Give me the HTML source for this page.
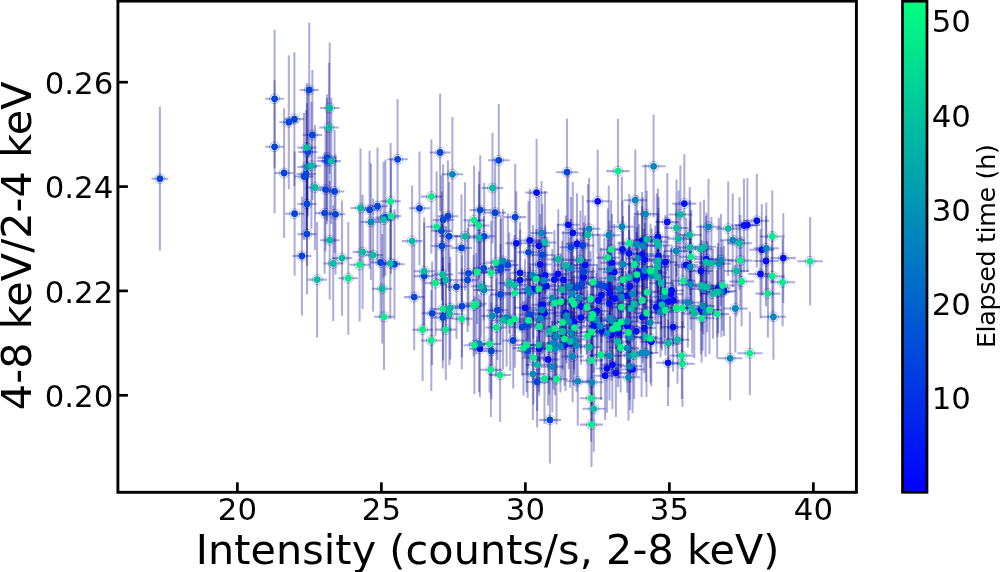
<!DOCTYPE html>
<html lang="en"><head><meta charset="utf-8"><title>Hardness-intensity diagram</title>
<style>html,body{margin:0;padding:0;background:#fff}body{width:1000px;height:572px;overflow:hidden}svg{display:block}text{font-family:"DejaVu Sans","Liberation Sans",sans-serif;fill:#000}</style></head><body>
<svg width="1000" height="572" viewBox="0 0 1000 572">
<defs><linearGradient id="cb" x1="0" y1="1" x2="0" y2="0"><stop offset="0" stop-color="#0000ff"/><stop offset="1" stop-color="#00ff80"/></linearGradient>
<clipPath id="ax"><rect x="117.9" y="1.1" width="738.5" height="491.2"/></clipPath></defs>
<rect width="1000" height="572" fill="#fff"/>
<g clip-path="url(#ax)">
<g stroke="#000096" stroke-opacity="0.32" stroke-width="2.05" fill="none">
<path d="M747.4 178.0V272.0"/><path d="M735.0 225.0H759.8"/>
<path d="M529.8 188.5V292.2"/><path d="M518.7 240.4H540.8"/>
<path d="M516.3 191.2V295.5"/><path d="M505.3 243.3H527.3"/>
<path d="M520.1 222.0V323.5"/><path d="M509.1 272.8H531.2"/>
<path d="M520.1 229.7V330.5"/><path d="M509.1 280.1H531.2"/>
<path d="M533.4 239.2V338.6"/><path d="M522.3 288.9H544.5"/>
<path d="M525.0 258.7V356.9"/><path d="M514.0 307.8H536.1"/>
<path d="M479.9 300.1V397.3"/><path d="M469.1 348.7H490.6"/>
<path d="M536.6 138.8V246.3"/><path d="M525.4 192.6H547.7"/>
<path d="M597.7 149.7V252.9"/><path d="M586.2 201.3H609.2"/>
<path d="M568.3 173.4V276.2"/><path d="M557.0 224.8H579.6"/>
<path d="M539.0 194.4V297.1"/><path d="M527.8 245.8H550.1"/>
<path d="M540.2 213.9V315.0"/><path d="M529.1 264.4H551.4"/>
<path d="M572.8 182.0V283.9"/><path d="M561.4 232.9H584.2"/>
<path d="M577.0 193.3V294.0"/><path d="M565.6 243.7H588.4"/>
<path d="M585.2 215.6V314.1"/><path d="M573.8 264.9H596.6"/>
<path d="M583.6 228.7V326.2"/><path d="M572.2 277.5H595.0"/>
<path d="M612.0 214.1V311.4"/><path d="M600.4 262.8H623.6"/>
<path d="M614.3 224.0V320.4"/><path d="M602.7 272.2H625.9"/>
<path d="M622.5 200.5V298.4"/><path d="M610.8 249.4H634.1"/>
<path d="M629.0 204.7V301.9"/><path d="M617.3 253.3H640.7"/>
<path d="M636.6 232.0V326.7"/><path d="M624.9 279.4H648.4"/>
<path d="M630.0 238.9V333.4"/><path d="M618.3 286.2H641.7"/>
<path d="M557.9 224.3V323.5"/><path d="M546.6 273.9H569.2"/>
<path d="M554.4 230.1V329.0"/><path d="M543.2 279.6H565.7"/>
<path d="M563.4 230.7V329.1"/><path d="M552.0 279.9H574.7"/>
<path d="M545.2 225.4V325.3"/><path d="M534.0 275.4H556.4"/>
<path d="M546.5 236.4V335.3"/><path d="M535.4 285.9H557.7"/>
<path d="M607.5 239.8V335.3"/><path d="M595.9 287.5H619.0"/>
<path d="M542.6 256.0V353.4"/><path d="M531.4 304.7H553.7"/>
<path d="M544.5 265.0V361.6"/><path d="M533.3 313.3H555.6"/>
<path d="M580.9 258.6V353.9"/><path d="M569.5 306.3H592.3"/>
<path d="M601.4 247.7V342.8"/><path d="M589.8 295.2H612.9"/>
<path d="M598.3 253.1V347.9"/><path d="M586.8 300.5H609.8"/>
<path d="M597.0 264.0V358.0"/><path d="M585.4 311.0H608.5"/>
<path d="M610.1 245.7V340.6"/><path d="M598.5 293.1H621.7"/>
<path d="M614.8 251.5V345.7"/><path d="M603.2 298.6H626.4"/>
<path d="M609.3 256.4V350.5"/><path d="M597.8 303.4H620.9"/>
<path d="M626.1 248.8V342.7"/><path d="M614.5 295.8H637.8"/>
<path d="M565.7 264.8V360.3"/><path d="M554.3 312.6H577.0"/>
<path d="M573.9 274.9V369.2"/><path d="M562.5 322.0H585.2"/>
<path d="M580.9 270.5V364.8"/><path d="M569.5 317.6H592.3"/>
<path d="M593.8 279.8V372.7"/><path d="M582.3 326.2H605.3"/>
<path d="M602.2 285.1V377.2"/><path d="M590.7 331.2H613.7"/>
<path d="M611.6 289.5V380.8"/><path d="M600.0 335.1H623.3"/>
<path d="M627.4 280.6V371.9"/><path d="M615.7 326.2H639.1"/>
<path d="M619.0 287.5V378.6"/><path d="M607.4 333.1H630.6"/>
<path d="M636.3 286.0V376.5"/><path d="M624.6 331.3H648.1"/>
<path d="M565.5 298.2V391.0"/><path d="M554.1 344.6H576.8"/>
<path d="M539.2 301.9V395.7"/><path d="M528.1 348.8H550.3"/>
<path d="M548.1 313.2V405.7"/><path d="M536.9 359.4H559.3"/>
<path d="M612.4 320.3V409.1"/><path d="M600.8 364.7H624.0"/>
<path d="M606.9 324.0V412.8"/><path d="M595.4 368.4H618.5"/>
<path d="M615.9 328.9V416.9"/><path d="M604.2 372.9H627.5"/>
<path d="M605.1 331.6V419.9"/><path d="M593.6 375.7H616.7"/>
<path d="M632.6 325.7V413.2"/><path d="M620.9 369.4H644.4"/>
<path d="M684.3 154.3V252.8"/><path d="M672.3 203.6H696.3"/>
<path d="M667.3 173.1V270.9"/><path d="M655.4 222.0H679.2"/>
<path d="M744.0 178.4V272.5"/><path d="M731.6 225.5H756.3"/>
<path d="M657.9 188.5V285.6"/><path d="M646.0 237.0H669.7"/>
<path d="M642.1 191.9V289.5"/><path d="M630.3 240.7H653.9"/>
<path d="M642.1 206.1V302.6"/><path d="M630.3 254.3H653.9"/>
<path d="M644.7 211.6V307.6"/><path d="M632.9 259.6H656.5"/>
<path d="M658.4 208.1V303.7"/><path d="M646.5 255.9H670.3"/>
<path d="M665.4 214.9V309.6"/><path d="M653.5 262.2H677.3"/>
<path d="M706.4 212.5V305.6"/><path d="M694.2 259.1H718.5"/>
<path d="M686.2 218.1V311.6"/><path d="M674.2 264.9H698.2"/>
<path d="M643.7 229.0V323.6"/><path d="M631.9 276.3H655.5"/>
<path d="M700.9 224.8V317.2"/><path d="M688.8 271.0H713.0"/>
<path d="M718.2 243.0V333.3"/><path d="M706.0 288.1H730.5"/>
<path d="M724.0 246.1V335.9"/><path d="M711.7 291.0H736.3"/>
<path d="M671.7 244.4V336.5"/><path d="M659.7 290.4H683.7"/>
<path d="M671.0 248.2V340.1"/><path d="M659.0 294.1H682.9"/>
<path d="M673.4 254.8V346.1"/><path d="M661.4 300.4H685.4"/>
<path d="M668.4 255.8V347.2"/><path d="M656.4 301.5H680.3"/>
<path d="M661.0 256.1V347.9"/><path d="M649.1 302.0H672.9"/>
<path d="M656.3 261.5V353.0"/><path d="M644.4 307.2H668.1"/>
<path d="M642.6 271.6V362.9"/><path d="M630.8 317.2H654.4"/>
<path d="M700.9 264.7V354.0"/><path d="M688.8 309.4H713.0"/>
<path d="M639.2 223.9V319.2"/><path d="M627.4 271.6H650.9"/>
<path d="M644.2 282.9V373.3"/><path d="M632.4 328.1H656.0"/>
<path d="M673.1 282.5V371.7"/><path d="M661.1 327.1H685.0"/>
<path d="M651.3 297.3V386.2"/><path d="M639.5 341.8H663.2"/>
<path d="M668.0 319.5V406.0"/><path d="M656.1 362.8H680.0"/>
<path d="M756.8 173.7V267.6"/><path d="M744.3 220.7H769.2"/>
<path d="M761.8 204.1V295.6"/><path d="M749.3 249.8H774.3"/>
<path d="M766.0 215.8V306.2"/><path d="M753.5 261.0H778.5"/>
<path d="M783.3 213.2V303.1"/><path d="M770.7 258.1H795.9"/>
<path d="M760.5 229.1V318.7"/><path d="M748.1 273.9H773.0"/>
<path d="M159.9 106.7V250.7"/><path d="M151.5 178.7H168.3"/>
<path d="M274.6 29.7V167.8"/><path d="M265.3 98.8H283.9"/>
<path d="M309.2 22.4V157.6"/><path d="M299.7 90.0H318.8"/>
<path d="M294.4 52.2V186.0"/><path d="M284.9 119.1H303.8"/>
<path d="M288.8 55.2V189.3"/><path d="M279.3 122.2H298.2"/>
<path d="M312.4 69.9V200.2"/><path d="M302.8 135.0H322.0"/>
<path d="M274.6 80.2V213.3"/><path d="M265.3 146.8H283.9"/>
<path d="M307.9 87.5V216.5"/><path d="M298.3 152.0H317.4"/>
<path d="M327.1 94.3V220.9"/><path d="M317.4 157.6H336.8"/>
<path d="M326.8 97.9V224.3"/><path d="M317.0 161.1H336.5"/>
<path d="M397.6 99.2V219.5"/><path d="M387.4 159.3H407.8"/>
<path d="M284.1 108.3V237.7"/><path d="M274.7 173.0H293.4"/>
<path d="M306.1 110.3V237.4"/><path d="M296.5 173.9H315.7"/>
<path d="M304.0 113.0V240.0"/><path d="M294.5 176.5H313.5"/>
<path d="M325.5 127.8V251.4"/><path d="M315.8 189.6H335.2"/>
<path d="M334.6 130.1V252.7"/><path d="M324.9 191.4H344.4"/>
<path d="M307.0 142.0V266.0"/><path d="M297.4 204.0H316.5"/>
<path d="M377.5 147.5V265.0"/><path d="M367.4 206.2H387.6"/>
<path d="M369.6 150.8V268.7"/><path d="M359.6 209.8H379.6"/>
<path d="M419.5 151.4V265.3"/><path d="M409.1 208.3H429.9"/>
<path d="M294.6 151.6V275.7"/><path d="M285.1 213.7H304.0"/>
<path d="M324.6 152.4V273.8"/><path d="M315.0 213.1H334.3"/>
<path d="M335.5 154.2V274.5"/><path d="M325.7 214.3H345.3"/>
<path d="M385.4 159.6V275.4"/><path d="M375.2 217.5H395.5"/>
<path d="M307.0 173.7V294.6"/><path d="M297.4 234.1H316.5"/>
<path d="M301.9 196.4V315.6"/><path d="M292.4 256.0H311.4"/>
<path d="M380.6 206.5V318.4"/><path d="M370.6 262.5H390.7"/>
<path d="M394.5 208.9V319.6"/><path d="M384.3 264.2H404.7"/>
<path d="M424.2 222.4V329.8"/><path d="M413.8 276.1H434.6"/>
<path d="M414.2 244.1V350.2"/><path d="M403.9 297.1H424.6"/>
<path d="M440.1 93.7V211.3"/><path d="M429.6 152.5H450.7"/>
<path d="M498.8 104.0V216.7"/><path d="M487.9 160.3H509.7"/>
<path d="M567.0 118.6V225.9"/><path d="M555.7 172.2H578.3"/>
<path d="M480.2 155.3V264.9"/><path d="M469.5 210.1H491.0"/>
<path d="M495.1 158.6V266.9"/><path d="M484.2 212.7H506.0"/>
<path d="M515.2 163.8V270.4"/><path d="M504.2 217.1H526.2"/>
<path d="M447.9 160.6V271.8"/><path d="M437.3 216.2H458.4"/>
<path d="M443.1 164.3V275.5"/><path d="M432.6 219.9H453.6"/>
<path d="M441.4 175.6V285.9"/><path d="M430.9 230.8H451.9"/>
<path d="M449.2 181.7V291.0"/><path d="M438.7 236.3H459.8"/>
<path d="M484.2 182.9V289.8"/><path d="M473.5 236.3H495.0"/>
<path d="M441.9 191.5V300.4"/><path d="M431.4 246.0H452.4"/>
<path d="M461.5 194.2V301.6"/><path d="M450.9 247.9H472.1"/>
<path d="M528.5 200.9V303.7"/><path d="M517.4 252.3H539.6"/>
<path d="M507.9 213.4V316.3"/><path d="M496.9 264.9H518.8"/>
<path d="M500.9 215.0V318.2"/><path d="M490.0 266.6H511.8"/>
<path d="M500.5 218.7V321.6"/><path d="M489.6 270.1H511.4"/>
<path d="M483.7 216.3V320.4"/><path d="M472.9 268.4H494.5"/>
<path d="M468.5 221.0V325.6"/><path d="M457.8 273.3H479.2"/>
<path d="M467.6 228.1V332.1"/><path d="M456.9 280.1H478.3"/>
<path d="M456.5 234.7V338.9"/><path d="M445.8 286.8H467.1"/>
<path d="M500.6 244.0V344.7"/><path d="M489.7 294.4H511.5"/>
<path d="M432.1 261.6V365.0"/><path d="M421.7 313.3H442.5"/>
<path d="M442.8 266.3V368.6"/><path d="M432.3 317.5H453.3"/>
<path d="M462.0 255.2V357.3"/><path d="M451.4 306.2H472.7"/>
<path d="M497.4 260.4V360.0"/><path d="M486.5 310.2H508.3"/>
<path d="M530.3 266.0V363.3"/><path d="M519.2 314.6H541.4"/>
<path d="M526.6 276.3V372.9"/><path d="M515.5 324.6H537.7"/>
<path d="M522.1 278.9V375.5"/><path d="M511.0 327.2H533.1"/>
<path d="M491.4 302.8V399.2"/><path d="M480.6 351.0H502.3"/>
<path d="M513.2 292.5V388.5"/><path d="M502.2 340.5H524.1"/>
<path d="M527.6 303.9V398.1"/><path d="M516.6 351.0H538.7"/>
<path d="M549.9 376.3V463.5"/><path d="M538.7 419.9H561.1"/>
<path d="M542.4 204.1V305.9"/><path d="M531.2 255.0H553.5"/>
<path d="M582.8 195.4V295.7"/><path d="M571.4 245.5H594.2"/>
<path d="M571.0 196.9V297.7"/><path d="M559.7 247.3H582.4"/>
<path d="M583.8 222.5V320.5"/><path d="M572.4 271.5H595.3"/>
<path d="M581.7 235.2V332.3"/><path d="M570.3 283.8H593.1"/>
<path d="M577.0 239.0V336.1"/><path d="M565.6 287.5H588.4"/>
<path d="M599.6 236.5V332.7"/><path d="M588.0 284.6H611.1"/>
<path d="M604.3 238.3V334.0"/><path d="M592.7 286.2H615.9"/>
<path d="M537.1 336.5V427.6"/><path d="M526.0 382.0H548.2"/>
<path d="M307.0 103.0V230.7"/><path d="M297.4 166.9H316.5"/>
<path d="M370.9 163.6V280.1"/><path d="M360.8 221.9H380.9"/>
<path d="M452.4 117.0V231.7"/><path d="M441.8 174.3H463.0"/>
<path d="M503.1 209.2V312.8"/><path d="M492.2 261.0H514.1"/>
<path d="M532.9 225.1V325.6"/><path d="M521.8 275.4H544.0"/>
<path d="M484.1 238.9V341.0"/><path d="M473.3 289.9H494.9"/>
<path d="M528.2 239.6V339.2"/><path d="M517.1 289.4H539.3"/>
<path d="M529.8 243.0V342.2"/><path d="M518.7 292.6H540.8"/>
<path d="M492.2 266.2V365.6"/><path d="M481.3 315.9H503.0"/>
<path d="M506.6 268.3V366.7"/><path d="M495.7 317.5H517.6"/>
<path d="M479.1 294.6V392.3"/><path d="M468.4 343.4H489.9"/>
<path d="M532.9 328.1V420.1"/><path d="M521.8 374.1H544.0"/>
<path d="M635.3 149.6V250.9"/><path d="M623.5 200.2H647.0"/>
<path d="M621.9 176.8V276.6"/><path d="M610.3 226.7H633.6"/>
<path d="M589.1 178.1V279.5"/><path d="M577.6 228.8H600.5"/>
<path d="M541.5 181.1V284.8"/><path d="M530.3 232.9H552.7"/>
<path d="M608.8 185.4V285.1"/><path d="M597.2 235.2H620.4"/>
<path d="M571.0 218.8V317.8"/><path d="M559.7 268.3H582.4"/>
<path d="M609.5 220.6V317.5"/><path d="M598.0 269.1H621.1"/>
<path d="M610.4 230.3V326.3"/><path d="M598.8 278.3H622.0"/>
<path d="M636.9 195.7V293.3"/><path d="M625.1 244.5H648.6"/>
<path d="M623.0 216.0V312.6"/><path d="M611.3 264.3H634.7"/>
<path d="M637.9 210.2V306.5"/><path d="M626.1 258.4H649.7"/>
<path d="M543.9 230.7V330.1"/><path d="M532.7 280.4H555.1"/>
<path d="M569.3 237.6V335.2"/><path d="M558.0 286.4H580.7"/>
<path d="M619.5 241.6V336.4"/><path d="M607.9 289.0H631.2"/>
<path d="M572.3 245.3V342.1"/><path d="M560.9 293.7H583.6"/>
<path d="M552.3 249.1V346.6"/><path d="M541.1 297.9H563.6"/>
<path d="M541.8 261.4V358.5"/><path d="M530.7 309.9H553.0"/>
<path d="M540.0 270.1V366.6"/><path d="M528.9 318.4H551.2"/>
<path d="M579.3 249.8V345.9"/><path d="M567.9 297.9H590.7"/>
<path d="M621.4 249.8V343.8"/><path d="M609.8 296.8H633.1"/>
<path d="M632.4 246.8V340.5"/><path d="M620.7 293.7H644.2"/>
<path d="M566.5 268.1V363.3"/><path d="M555.2 315.7H577.8"/>
<path d="M568.8 274.7V369.3"/><path d="M557.5 322.0H580.1"/>
<path d="M596.4 273.3V366.6"/><path d="M584.9 319.9H607.9"/>
<path d="M571.2 286.3V379.8"/><path d="M559.9 333.1H582.6"/>
<path d="M600.6 279.9V372.5"/><path d="M589.1 326.2H612.2"/>
<path d="M607.2 287.4V379.1"/><path d="M595.7 333.3H618.8"/>
<path d="M610.1 272.0V364.7"/><path d="M598.5 318.4H621.7"/>
<path d="M612.4 274.7V367.2"/><path d="M600.8 321.0H624.0"/>
<path d="M627.4 275.7V367.3"/><path d="M615.7 321.5H639.1"/>
<path d="M630.0 292.1V382.4"/><path d="M618.3 337.2H641.7"/>
<path d="M556.5 289.2V383.2"/><path d="M545.3 336.2H567.8"/>
<path d="M573.9 292.9V385.8"/><path d="M562.5 339.4H585.2"/>
<path d="M576.5 299.6V391.7"/><path d="M565.1 345.6H587.9"/>
<path d="M553.4 296.2V389.8"/><path d="M542.1 343.0H564.6"/>
<path d="M560.5 299.7V392.6"/><path d="M549.2 346.2H571.8"/>
<path d="M555.0 302.3V395.3"/><path d="M543.7 348.8H566.2"/>
<path d="M627.2 303.3V392.8"/><path d="M615.5 348.1H638.9"/>
<path d="M552.3 320.8V412.4"/><path d="M541.1 366.6H563.6"/>
<path d="M572.6 310.8V402.2"/><path d="M561.2 356.5H583.9"/>
<path d="M609.5 310.9V400.6"/><path d="M598.0 355.8H621.1"/>
<path d="M629.5 311.4V400.2"/><path d="M617.8 355.8H641.2"/>
<path d="M630.0 322.3V410.2"/><path d="M618.3 366.3H641.7"/>
<path d="M628.5 333.8V420.8"/><path d="M616.7 377.3H640.2"/>
<path d="M577.8 336.7V425.8"/><path d="M566.4 381.3H589.2"/>
<path d="M592.0 338.2V426.5"/><path d="M580.5 382.3H603.5"/>
<path d="M653.6 114.8V217.8"/><path d="M641.8 166.3H665.5"/>
<path d="M645.5 164.3V263.9"/><path d="M633.7 214.1H657.3"/>
<path d="M708.5 179.1V274.6"/><path d="M696.3 226.8H720.6"/>
<path d="M642.6 197.2V294.3"/><path d="M630.8 245.7H654.4"/>
<path d="M732.7 193.5V286.9"/><path d="M720.4 240.2H745.0"/>
<path d="M676.2 203.3V298.4"/><path d="M664.2 250.9H688.2"/>
<path d="M720.9 213.9V306.3"/><path d="M708.6 260.1H733.1"/>
<path d="M718.8 217.7V309.9"/><path d="M706.5 263.8H731.0"/>
<path d="M644.7 223.0V318.0"/><path d="M632.9 270.5H656.5"/>
<path d="M651.8 228.6V322.9"/><path d="M639.9 275.8H663.6"/>
<path d="M690.1 220.5V313.7"/><path d="M678.0 267.1H702.2"/>
<path d="M690.6 238.5V330.3"/><path d="M678.5 284.4H702.7"/>
<path d="M703.5 243.4V334.3"/><path d="M691.4 288.9H715.7"/>
<path d="M721.4 247.1V336.9"/><path d="M709.1 292.0H733.6"/>
<path d="M663.9 250.7V342.8"/><path d="M652.0 296.8H675.9"/>
<path d="M660.5 266.5V357.4"/><path d="M648.6 312.0H672.4"/>
<path d="M687.8 257.3V347.8"/><path d="M675.7 302.5H699.8"/>
<path d="M702.7 261.1V350.7"/><path d="M690.5 305.9H714.8"/>
<path d="M705.6 267.7V356.7"/><path d="M693.5 312.2H717.8"/>
<path d="M735.3 264.5V352.5"/><path d="M723.0 308.5H747.7"/>
<path d="M650.2 277.3V367.8"/><path d="M638.4 322.6H662.0"/>
<path d="M641.6 308.6V397.0"/><path d="M629.8 352.8H653.4"/>
<path d="M646.5 308.9V397.1"/><path d="M634.7 353.0H658.3"/>
<path d="M730.1 316.1V400.4"/><path d="M717.8 358.3H742.4"/>
<path d="M766.3 202.6V294.0"/><path d="M753.8 248.3H778.8"/>
<path d="M773.4 273.9V359.7"/><path d="M760.8 316.8H785.9"/>
<path d="M329.7 42.4V173.7"/><path d="M320.0 108.0H339.5"/>
<path d="M329.0 62.8V192.2"/><path d="M319.3 127.5H338.7"/>
<path d="M306.8 82.8V212.4"/><path d="M297.2 147.6H316.4"/>
<path d="M331.3 98.1V224.1"/><path d="M321.6 161.1H341.0"/>
<path d="M311.4 102.0V229.3"/><path d="M301.8 165.7H320.9"/>
<path d="M315.0 125.1V249.9"/><path d="M305.4 187.5H324.6"/>
<path d="M360.5 148.6V267.4"/><path d="M350.6 208.0H370.5"/>
<path d="M383.6 161.7V277.5"/><path d="M373.5 219.6H393.7"/>
<path d="M329.7 181.1V299.4"/><path d="M320.0 240.2H339.5"/>
<path d="M412.1 185.4V296.9"/><path d="M401.8 241.1H422.5"/>
<path d="M362.6 194.8V309.1"/><path d="M352.7 252.0H372.6"/>
<path d="M373.1 198.5V311.7"/><path d="M363.1 255.1H383.2"/>
<path d="M342.0 200.4V315.8"/><path d="M332.2 258.1H351.8"/>
<path d="M333.2 205.5V321.2"/><path d="M323.5 263.4H343.0"/>
<path d="M390.3 207.8V318.9"/><path d="M380.1 263.4H400.4"/>
<path d="M424.2 217.3V325.1"/><path d="M413.8 271.2H434.6"/>
<path d="M317.1 221.9V337.4"/><path d="M307.5 279.6H326.8"/>
<path d="M382.2 234.1V343.4"/><path d="M372.1 288.7H392.3"/>
<path d="M492.5 132.7V243.3"/><path d="M481.6 188.0H503.3"/>
<path d="M465.0 182.3V290.4"/><path d="M454.3 236.3H475.7"/>
<path d="M479.0 184.2V291.3"/><path d="M468.2 237.8H489.8"/>
<path d="M442.6 221.4V327.6"/><path d="M432.1 274.5H453.1"/>
<path d="M445.8 227.3V332.9"/><path d="M435.2 280.1H456.3"/>
<path d="M481.1 234.9V337.6"/><path d="M470.4 286.3H491.9"/>
<path d="M509.3 232.5V333.7"/><path d="M498.3 283.1H520.2"/>
<path d="M514.5 234.9V335.6"/><path d="M503.5 285.2H525.5"/>
<path d="M450.3 256.7V359.4"/><path d="M439.7 308.0H460.8"/>
<path d="M449.4 262.8V365.0"/><path d="M438.9 313.9H460.0"/>
<path d="M503.0 271.2V369.6"/><path d="M492.1 320.4H513.9"/>
<path d="M545.0 191.1V293.7"/><path d="M533.8 242.4H556.2"/>
<path d="M588.0 184.3V285.2"/><path d="M576.6 234.7H599.5"/>
<path d="M558.3 209.2V309.6"/><path d="M547.0 259.4H569.6"/>
<path d="M565.8 215.6V315.2"/><path d="M554.4 265.4H577.1"/>
<path d="M580.4 210.5V309.7"/><path d="M569.0 260.1H591.8"/>
<path d="M629.2 229.8V325.1"/><path d="M617.5 277.5H640.9"/>
<path d="M562.1 240.8V338.5"/><path d="M550.8 289.6H573.4"/>
<path d="M634.2 257.8V350.6"/><path d="M622.5 304.2H646.0"/>
<path d="M631.1 262.4V355.0"/><path d="M619.4 308.7H642.8"/>
<path d="M549.7 284.1V378.9"/><path d="M538.5 331.5H560.9"/>
<path d="M562.5 284.4V378.5"/><path d="M551.2 331.5H573.8"/>
<path d="M570.2 295.0V387.9"/><path d="M558.8 341.4H581.5"/>
<path d="M538.7 298.0V392.2"/><path d="M527.5 345.1H549.8"/>
<path d="M618.0 296.4V386.9"/><path d="M606.3 341.7H629.6"/>
<path d="M589.3 301.5V392.9"/><path d="M577.8 347.2H600.7"/>
<path d="M537.1 318.4V411.0"/><path d="M526.0 364.7H548.2"/>
<path d="M634.2 310.4V399.1"/><path d="M622.5 354.7H646.0"/>
<path d="M593.8 365.8V451.8"/><path d="M582.3 408.8H605.3"/>
<path d="M680.4 165.5V263.4"/><path d="M668.4 214.4H692.4"/>
<path d="M676.5 179.4V276.4"/><path d="M664.5 227.9H688.5"/>
<path d="M728.2 181.4V275.9"/><path d="M715.9 228.6H740.5"/>
<path d="M689.7 187.0V282.8"/><path d="M677.6 234.9H701.7"/>
<path d="M678.6 190.6V286.6"/><path d="M666.6 238.6H690.6"/>
<path d="M646.8 190.7V288.2"/><path d="M635.0 239.4H658.6"/>
<path d="M656.8 193.4V290.1"/><path d="M644.9 241.8H668.7"/>
<path d="M658.7 197.2V293.6"/><path d="M646.8 245.4H670.6"/>
<path d="M739.5 196.9V289.8"/><path d="M727.2 243.3H751.9"/>
<path d="M690.2 200.2V294.9"/><path d="M678.1 247.5H702.3"/>
<path d="M700.4 202.0V296.2"/><path d="M688.2 249.1H712.5"/>
<path d="M704.0 199.7V293.9"/><path d="M691.9 246.8H716.2"/>
<path d="M658.1 213.1V308.2"/><path d="M646.2 260.6H669.9"/>
<path d="M706.1 215.8V308.7"/><path d="M694.0 262.2H718.3"/>
<path d="M711.4 217.0V309.5"/><path d="M699.2 263.3H723.6"/>
<path d="M657.3 219.5V314.2"/><path d="M645.4 266.8H669.2"/>
<path d="M655.2 225.4V319.8"/><path d="M643.4 272.6H667.1"/>
<path d="M658.1 230.4V324.2"/><path d="M646.2 277.3H669.9"/>
<path d="M661.0 236.5V329.7"/><path d="M649.1 283.1H672.9"/>
<path d="M736.6 225.6V316.4"/><path d="M724.3 271.0H748.9"/>
<path d="M701.7 240.1V331.3"/><path d="M689.6 285.7H713.9"/>
<path d="M707.2 241.3V332.2"/><path d="M695.0 286.8H719.4"/>
<path d="M717.5 247.0V337.0"/><path d="M705.3 292.0H729.7"/>
<path d="M713.0 248.8V338.8"/><path d="M700.8 293.8H725.2"/>
<path d="M662.0 258.9V350.4"/><path d="M650.1 304.6H674.0"/>
<path d="M692.2 263.6V353.4"/><path d="M680.1 308.5H704.3"/>
<path d="M694.3 268.9V358.2"/><path d="M682.2 313.6H706.4"/>
<path d="M645.8 292.3V381.8"/><path d="M634.0 337.1H657.6"/>
<path d="M668.6 299.1V387.2"/><path d="M656.6 343.1H680.5"/>
<path d="M677.5 295.7V383.7"/><path d="M665.5 339.7H689.5"/>
<path d="M390.6 142.9V259.8"/><path d="M380.5 201.3H400.8"/>
<path d="M391.0 158.4V273.8"/><path d="M380.8 216.1H401.1"/>
<path d="M359.6 208.1V321.4"/><path d="M349.7 264.8H369.6"/>
<path d="M348.3 221.7V334.7"/><path d="M338.4 278.2H358.1"/>
<path d="M384.0 263.5V370.0"/><path d="M373.9 316.8H394.1"/>
<path d="M422.6 278.5V381.0"/><path d="M412.3 329.7H433.0"/>
<path d="M431.4 139.5V253.7"/><path d="M421.0 196.6H441.8"/>
<path d="M474.1 165.7V274.8"/><path d="M463.4 220.2H484.8"/>
<path d="M479.0 171.4V279.6"/><path d="M468.2 225.5H489.8"/>
<path d="M436.6 171.2V282.2"/><path d="M426.2 226.7H447.1"/>
<path d="M496.1 210.7V314.5"/><path d="M485.3 262.6H507.0"/>
<path d="M477.2 219.8V324.0"/><path d="M466.5 271.9H488.0"/>
<path d="M491.2 221.1V324.4"/><path d="M480.4 272.8H502.1"/>
<path d="M435.5 230.1V336.1"/><path d="M425.0 283.1H445.9"/>
<path d="M515.0 243.1V343.1"/><path d="M504.1 293.1H526.0"/>
<path d="M443.1 257.3V360.4"/><path d="M432.6 308.9H453.6"/>
<path d="M473.6 255.0V356.4"/><path d="M462.9 305.7H484.3"/>
<path d="M476.2 253.1V354.5"/><path d="M465.5 303.8H486.9"/>
<path d="M461.8 268.3V369.3"/><path d="M451.2 318.8H472.5"/>
<path d="M528.4 272.0V368.8"/><path d="M517.3 320.4H539.5"/>
<path d="M510.3 273.3V371.1"/><path d="M499.4 322.2H521.3"/>
<path d="M514.8 269.9V367.7"/><path d="M503.8 318.8H525.8"/>
<path d="M496.4 278.4V376.5"/><path d="M485.5 327.4H507.2"/>
<path d="M445.8 279.1V380.2"/><path d="M435.2 329.6H456.3"/>
<path d="M431.3 290.0V391.0"/><path d="M420.8 340.5H441.7"/>
<path d="M474.4 296.3V394.1"/><path d="M463.7 345.2H485.1"/>
<path d="M489.5 295.3V392.4"/><path d="M478.7 343.9H500.4"/>
<path d="M526.6 297.5V392.3"/><path d="M515.5 344.9H537.7"/>
<path d="M523.5 300.7V395.4"/><path d="M512.4 348.1H534.5"/>
<path d="M533.4 311.1V404.5"/><path d="M522.3 357.8H544.5"/>
<path d="M490.9 322.3V417.0"/><path d="M480.1 369.7H501.7"/>
<path d="M500.1 328.1V421.8"/><path d="M489.2 374.9H511.0"/>
<path d="M591.5 382.2V467.0"/><path d="M580.0 424.6H603.0"/>
<path d="M618.0 118.8V223.3"/><path d="M606.3 171.1H629.6"/>
<path d="M611.1 200.2V298.6"/><path d="M599.5 249.4H622.7"/>
<path d="M607.8 208.6V306.6"/><path d="M596.2 257.6H619.3"/>
<path d="M629.2 194.1V292.1"/><path d="M617.5 243.1H640.9"/>
<path d="M634.5 216.3V312.4"/><path d="M622.8 264.3H646.3"/>
<path d="M636.9 227.1V322.2"/><path d="M625.1 274.6H648.6"/>
<path d="M623.2 232.0V327.3"/><path d="M611.5 279.7H634.9"/>
<path d="M536.3 229.1V329.1"/><path d="M525.1 279.1H547.4"/>
<path d="M538.7 239.3V338.3"/><path d="M527.5 288.8H549.8"/>
<path d="M593.3 233.9V330.5"/><path d="M581.8 282.2H604.8"/>
<path d="M554.7 254.7V351.6"/><path d="M543.5 303.1H566.0"/>
<path d="M560.7 253.2V349.9"/><path d="M549.4 301.6H572.0"/>
<path d="M539.4 278.7V374.4"/><path d="M528.3 326.5H550.6"/>
<path d="M571.8 252.4V348.6"/><path d="M560.4 300.5H583.1"/>
<path d="M574.1 256.3V352.1"/><path d="M562.7 304.2H585.4"/>
<path d="M590.6 251.2V346.6"/><path d="M579.2 298.9H602.1"/>
<path d="M586.8 259.9V354.8"/><path d="M575.3 307.3H598.2"/>
<path d="M621.4 260.5V353.7"/><path d="M609.8 307.1H633.1"/>
<path d="M562.5 274.9V369.8"/><path d="M551.2 322.3H573.8"/>
<path d="M592.8 267.4V361.4"/><path d="M581.3 314.4H604.2"/>
<path d="M591.7 271.0V364.7"/><path d="M580.2 317.8H603.2"/>
<path d="M574.4 280.7V374.5"/><path d="M563.0 327.6H585.7"/>
<path d="M591.7 285.7V378.3"/><path d="M580.2 332.0H603.2"/>
<path d="M587.5 290.0V382.4"/><path d="M576.0 336.2H599.0"/>
<path d="M620.9 276.0V368.0"/><path d="M609.2 322.0H632.5"/>
<path d="M616.4 279.2V371.1"/><path d="M604.7 325.2H628.0"/>
<path d="M612.7 283.0V374.7"/><path d="M601.1 328.9H624.3"/>
<path d="M618.0 282.0V373.6"/><path d="M606.3 327.8H629.6"/>
<path d="M628.5 287.2V377.9"/><path d="M616.7 332.5H640.2"/>
<path d="M555.0 281.3V376.0"/><path d="M543.7 328.6H566.2"/>
<path d="M564.4 292.5V385.8"/><path d="M553.1 339.1H575.7"/>
<path d="M549.2 301.0V394.5"/><path d="M538.0 347.8H560.4"/>
<path d="M620.6 302.6V392.5"/><path d="M608.9 347.5H632.2"/>
<path d="M544.5 333.1V424.1"/><path d="M533.3 378.6H555.6"/>
<path d="M556.5 334.0V424.4"/><path d="M545.3 379.2H567.8"/>
<path d="M591.5 315.4V405.6"/><path d="M580.0 360.5H603.0"/>
<path d="M600.9 309.9V400.1"/><path d="M589.4 355.0H612.5"/>
<path d="M591.2 354.8V441.8"/><path d="M579.7 398.3H602.6"/>
<path d="M691.1 209.7V303.6"/><path d="M679.1 256.7H703.2"/>
<path d="M740.3 214.9V306.4"/><path d="M727.9 260.6H752.6"/>
<path d="M650.5 223.7V318.4"/><path d="M638.7 271.0H662.3"/>
<path d="M741.6 236.6V326.4"/><path d="M729.3 281.5H754.0"/>
<path d="M683.4 234.6V327.0"/><path d="M671.3 280.8H695.4"/>
<path d="M722.6 240.4V330.7"/><path d="M710.4 285.5H734.9"/>
<path d="M647.0 245.8V338.9"/><path d="M635.2 292.3H658.8"/>
<path d="M664.9 245.3V337.7"/><path d="M653.0 291.5H676.8"/>
<path d="M642.3 254.1V346.8"/><path d="M630.5 300.4H654.1"/>
<path d="M665.4 264.8V355.6"/><path d="M653.5 310.2H677.3"/>
<path d="M646.5 267.3V358.8"/><path d="M634.7 313.0H658.3"/>
<path d="M676.2 262.5V353.1"/><path d="M664.2 307.8H688.2"/>
<path d="M682.2 262.6V352.9"/><path d="M670.2 307.8H694.2"/>
<path d="M709.5 265.4V354.3"/><path d="M697.3 309.9H721.7"/>
<path d="M717.2 269.9V358.2"/><path d="M704.9 314.1H729.4"/>
<path d="M701.6 274.0V362.6"/><path d="M689.5 318.3H713.8"/>
<path d="M650.5 294.0V383.2"/><path d="M638.7 338.6H662.3"/>
<path d="M681.8 312.4V398.9"/><path d="M669.8 355.6H693.8"/>
<path d="M682.5 320.9V406.7"/><path d="M670.5 363.8H694.6"/>
<path d="M772.3 190.4V282.4"/><path d="M759.8 236.4H784.8"/>
<path d="M810.1 217.0V305.6"/><path d="M797.3 261.3H822.9"/>
<path d="M772.3 231.7V320.7"/><path d="M759.8 276.2H784.8"/>
<path d="M782.6 238.2V326.3"/><path d="M770.0 282.3H795.2"/>
<path d="M767.9 249.7V337.5"/><path d="M755.4 293.6H780.4"/>
<path d="M749.9 311.4V395.3"/><path d="M737.5 353.3H762.4"/>
</g>
<g stroke="#000096" stroke-opacity="0.34" stroke-width="0.8" fill="none">
<circle cx="747.4" cy="225.0" r="5"/>
<circle cx="529.8" cy="240.4" r="5"/>
<circle cx="516.3" cy="243.3" r="5"/>
<circle cx="520.1" cy="272.8" r="5"/>
<circle cx="520.1" cy="280.1" r="5"/>
<circle cx="533.4" cy="288.9" r="5"/>
<circle cx="525.0" cy="307.8" r="5"/>
<circle cx="479.9" cy="348.7" r="5"/>
<circle cx="536.6" cy="192.6" r="5"/>
<circle cx="597.7" cy="201.3" r="5"/>
<circle cx="568.3" cy="224.8" r="5"/>
<circle cx="539.0" cy="245.8" r="5"/>
<circle cx="540.2" cy="264.4" r="5"/>
<circle cx="572.8" cy="232.9" r="5"/>
<circle cx="577.0" cy="243.7" r="5"/>
<circle cx="585.2" cy="264.9" r="5"/>
<circle cx="583.6" cy="277.5" r="5"/>
<circle cx="612.0" cy="262.8" r="5"/>
<circle cx="614.3" cy="272.2" r="5"/>
<circle cx="622.5" cy="249.4" r="5"/>
<circle cx="629.0" cy="253.3" r="5"/>
<circle cx="636.6" cy="279.4" r="5"/>
<circle cx="630.0" cy="286.2" r="5"/>
<circle cx="557.9" cy="273.9" r="5"/>
<circle cx="554.4" cy="279.6" r="5"/>
<circle cx="563.4" cy="279.9" r="5"/>
<circle cx="545.2" cy="275.4" r="5"/>
<circle cx="546.5" cy="285.9" r="5"/>
<circle cx="607.5" cy="287.5" r="5"/>
<circle cx="542.6" cy="304.7" r="5"/>
<circle cx="544.5" cy="313.3" r="5"/>
<circle cx="580.9" cy="306.3" r="5"/>
<circle cx="601.4" cy="295.2" r="5"/>
<circle cx="598.3" cy="300.5" r="5"/>
<circle cx="597.0" cy="311.0" r="5"/>
<circle cx="610.1" cy="293.1" r="5"/>
<circle cx="614.8" cy="298.6" r="5"/>
<circle cx="609.3" cy="303.4" r="5"/>
<circle cx="626.1" cy="295.8" r="5"/>
<circle cx="565.7" cy="312.6" r="5"/>
<circle cx="573.9" cy="322.0" r="5"/>
<circle cx="580.9" cy="317.6" r="5"/>
<circle cx="593.8" cy="326.2" r="5"/>
<circle cx="602.2" cy="331.2" r="5"/>
<circle cx="611.6" cy="335.1" r="5"/>
<circle cx="627.4" cy="326.2" r="5"/>
<circle cx="619.0" cy="333.1" r="5"/>
<circle cx="636.3" cy="331.3" r="5"/>
<circle cx="565.5" cy="344.6" r="5"/>
<circle cx="539.2" cy="348.8" r="5"/>
<circle cx="548.1" cy="359.4" r="5"/>
<circle cx="612.4" cy="364.7" r="5"/>
<circle cx="606.9" cy="368.4" r="5"/>
<circle cx="615.9" cy="372.9" r="5"/>
<circle cx="605.1" cy="375.7" r="5"/>
<circle cx="632.6" cy="369.4" r="5"/>
<circle cx="684.3" cy="203.6" r="5"/>
<circle cx="667.3" cy="222.0" r="5"/>
<circle cx="744.0" cy="225.5" r="5"/>
<circle cx="657.9" cy="237.0" r="5"/>
<circle cx="642.1" cy="240.7" r="5"/>
<circle cx="642.1" cy="254.3" r="5"/>
<circle cx="644.7" cy="259.6" r="5"/>
<circle cx="658.4" cy="255.9" r="5"/>
<circle cx="665.4" cy="262.2" r="5"/>
<circle cx="706.4" cy="259.1" r="5"/>
<circle cx="686.2" cy="264.9" r="5"/>
<circle cx="643.7" cy="276.3" r="5"/>
<circle cx="700.9" cy="271.0" r="5"/>
<circle cx="718.2" cy="288.1" r="5"/>
<circle cx="724.0" cy="291.0" r="5"/>
<circle cx="671.7" cy="290.4" r="5"/>
<circle cx="671.0" cy="294.1" r="5"/>
<circle cx="673.4" cy="300.4" r="5"/>
<circle cx="668.4" cy="301.5" r="5"/>
<circle cx="661.0" cy="302.0" r="5"/>
<circle cx="656.3" cy="307.2" r="5"/>
<circle cx="642.6" cy="317.2" r="5"/>
<circle cx="700.9" cy="309.4" r="5"/>
<circle cx="639.2" cy="271.6" r="5"/>
<circle cx="644.2" cy="328.1" r="5"/>
<circle cx="673.1" cy="327.1" r="5"/>
<circle cx="651.3" cy="341.8" r="5"/>
<circle cx="668.0" cy="362.8" r="5"/>
<circle cx="756.8" cy="220.7" r="5"/>
<circle cx="761.8" cy="249.8" r="5"/>
<circle cx="766.0" cy="261.0" r="5"/>
<circle cx="783.3" cy="258.1" r="5"/>
<circle cx="760.5" cy="273.9" r="5"/>
<circle cx="159.9" cy="178.7" r="5"/>
<circle cx="274.6" cy="98.8" r="5"/>
<circle cx="309.2" cy="90.0" r="5"/>
<circle cx="294.4" cy="119.1" r="5"/>
<circle cx="288.8" cy="122.2" r="5"/>
<circle cx="312.4" cy="135.0" r="5"/>
<circle cx="274.6" cy="146.8" r="5"/>
<circle cx="307.9" cy="152.0" r="5"/>
<circle cx="327.1" cy="157.6" r="5"/>
<circle cx="326.8" cy="161.1" r="5"/>
<circle cx="397.6" cy="159.3" r="5"/>
<circle cx="284.1" cy="173.0" r="5"/>
<circle cx="306.1" cy="173.9" r="5"/>
<circle cx="304.0" cy="176.5" r="5"/>
<circle cx="325.5" cy="189.6" r="5"/>
<circle cx="334.6" cy="191.4" r="5"/>
<circle cx="307.0" cy="204.0" r="5"/>
<circle cx="377.5" cy="206.2" r="5"/>
<circle cx="369.6" cy="209.8" r="5"/>
<circle cx="419.5" cy="208.3" r="5"/>
<circle cx="294.6" cy="213.7" r="5"/>
<circle cx="324.6" cy="213.1" r="5"/>
<circle cx="335.5" cy="214.3" r="5"/>
<circle cx="385.4" cy="217.5" r="5"/>
<circle cx="307.0" cy="234.1" r="5"/>
<circle cx="301.9" cy="256.0" r="5"/>
<circle cx="380.6" cy="262.5" r="5"/>
<circle cx="394.5" cy="264.2" r="5"/>
<circle cx="424.2" cy="276.1" r="5"/>
<circle cx="414.2" cy="297.1" r="5"/>
<circle cx="440.1" cy="152.5" r="5"/>
<circle cx="498.8" cy="160.3" r="5"/>
<circle cx="567.0" cy="172.2" r="5"/>
<circle cx="480.2" cy="210.1" r="5"/>
<circle cx="495.1" cy="212.7" r="5"/>
<circle cx="515.2" cy="217.1" r="5"/>
<circle cx="447.9" cy="216.2" r="5"/>
<circle cx="443.1" cy="219.9" r="5"/>
<circle cx="441.4" cy="230.8" r="5"/>
<circle cx="449.2" cy="236.3" r="5"/>
<circle cx="484.2" cy="236.3" r="5"/>
<circle cx="441.9" cy="246.0" r="5"/>
<circle cx="461.5" cy="247.9" r="5"/>
<circle cx="528.5" cy="252.3" r="5"/>
<circle cx="507.9" cy="264.9" r="5"/>
<circle cx="500.9" cy="266.6" r="5"/>
<circle cx="500.5" cy="270.1" r="5"/>
<circle cx="483.7" cy="268.4" r="5"/>
<circle cx="468.5" cy="273.3" r="5"/>
<circle cx="467.6" cy="280.1" r="5"/>
<circle cx="456.5" cy="286.8" r="5"/>
<circle cx="500.6" cy="294.4" r="5"/>
<circle cx="432.1" cy="313.3" r="5"/>
<circle cx="442.8" cy="317.5" r="5"/>
<circle cx="462.0" cy="306.2" r="5"/>
<circle cx="497.4" cy="310.2" r="5"/>
<circle cx="530.3" cy="314.6" r="5"/>
<circle cx="526.6" cy="324.6" r="5"/>
<circle cx="522.1" cy="327.2" r="5"/>
<circle cx="491.4" cy="351.0" r="5"/>
<circle cx="513.2" cy="340.5" r="5"/>
<circle cx="527.6" cy="351.0" r="5"/>
<circle cx="549.9" cy="419.9" r="5"/>
<circle cx="542.4" cy="255.0" r="5"/>
<circle cx="582.8" cy="245.5" r="5"/>
<circle cx="571.0" cy="247.3" r="5"/>
<circle cx="583.8" cy="271.5" r="5"/>
<circle cx="581.7" cy="283.8" r="5"/>
<circle cx="577.0" cy="287.5" r="5"/>
<circle cx="599.6" cy="284.6" r="5"/>
<circle cx="604.3" cy="286.2" r="5"/>
<circle cx="537.1" cy="382.0" r="5"/>
<circle cx="307.0" cy="166.9" r="5"/>
<circle cx="370.9" cy="221.9" r="5"/>
<circle cx="452.4" cy="174.3" r="5"/>
<circle cx="503.1" cy="261.0" r="5"/>
<circle cx="532.9" cy="275.4" r="5"/>
<circle cx="484.1" cy="289.9" r="5"/>
<circle cx="528.2" cy="289.4" r="5"/>
<circle cx="529.8" cy="292.6" r="5"/>
<circle cx="492.2" cy="315.9" r="5"/>
<circle cx="506.6" cy="317.5" r="5"/>
<circle cx="479.1" cy="343.4" r="5"/>
<circle cx="532.9" cy="374.1" r="5"/>
<circle cx="635.3" cy="200.2" r="5"/>
<circle cx="621.9" cy="226.7" r="5"/>
<circle cx="589.1" cy="228.8" r="5"/>
<circle cx="541.5" cy="232.9" r="5"/>
<circle cx="608.8" cy="235.2" r="5"/>
<circle cx="571.0" cy="268.3" r="5"/>
<circle cx="609.5" cy="269.1" r="5"/>
<circle cx="610.4" cy="278.3" r="5"/>
<circle cx="636.9" cy="244.5" r="5"/>
<circle cx="623.0" cy="264.3" r="5"/>
<circle cx="637.9" cy="258.4" r="5"/>
<circle cx="543.9" cy="280.4" r="5"/>
<circle cx="569.3" cy="286.4" r="5"/>
<circle cx="619.5" cy="289.0" r="5"/>
<circle cx="572.3" cy="293.7" r="5"/>
<circle cx="552.3" cy="297.9" r="5"/>
<circle cx="541.8" cy="309.9" r="5"/>
<circle cx="540.0" cy="318.4" r="5"/>
<circle cx="579.3" cy="297.9" r="5"/>
<circle cx="621.4" cy="296.8" r="5"/>
<circle cx="632.4" cy="293.7" r="5"/>
<circle cx="566.5" cy="315.7" r="5"/>
<circle cx="568.8" cy="322.0" r="5"/>
<circle cx="596.4" cy="319.9" r="5"/>
<circle cx="571.2" cy="333.1" r="5"/>
<circle cx="600.6" cy="326.2" r="5"/>
<circle cx="607.2" cy="333.3" r="5"/>
<circle cx="610.1" cy="318.4" r="5"/>
<circle cx="612.4" cy="321.0" r="5"/>
<circle cx="627.4" cy="321.5" r="5"/>
<circle cx="630.0" cy="337.2" r="5"/>
<circle cx="556.5" cy="336.2" r="5"/>
<circle cx="573.9" cy="339.4" r="5"/>
<circle cx="576.5" cy="345.6" r="5"/>
<circle cx="553.4" cy="343.0" r="5"/>
<circle cx="560.5" cy="346.2" r="5"/>
<circle cx="555.0" cy="348.8" r="5"/>
<circle cx="627.2" cy="348.1" r="5"/>
<circle cx="552.3" cy="366.6" r="5"/>
<circle cx="572.6" cy="356.5" r="5"/>
<circle cx="609.5" cy="355.8" r="5"/>
<circle cx="629.5" cy="355.8" r="5"/>
<circle cx="630.0" cy="366.3" r="5"/>
<circle cx="628.5" cy="377.3" r="5"/>
<circle cx="577.8" cy="381.3" r="5"/>
<circle cx="592.0" cy="382.3" r="5"/>
<circle cx="653.6" cy="166.3" r="5"/>
<circle cx="645.5" cy="214.1" r="5"/>
<circle cx="708.5" cy="226.8" r="5"/>
<circle cx="642.6" cy="245.7" r="5"/>
<circle cx="732.7" cy="240.2" r="5"/>
<circle cx="676.2" cy="250.9" r="5"/>
<circle cx="720.9" cy="260.1" r="5"/>
<circle cx="718.8" cy="263.8" r="5"/>
<circle cx="644.7" cy="270.5" r="5"/>
<circle cx="651.8" cy="275.8" r="5"/>
<circle cx="690.1" cy="267.1" r="5"/>
<circle cx="690.6" cy="284.4" r="5"/>
<circle cx="703.5" cy="288.9" r="5"/>
<circle cx="721.4" cy="292.0" r="5"/>
<circle cx="663.9" cy="296.8" r="5"/>
<circle cx="660.5" cy="312.0" r="5"/>
<circle cx="687.8" cy="302.5" r="5"/>
<circle cx="702.7" cy="305.9" r="5"/>
<circle cx="705.6" cy="312.2" r="5"/>
<circle cx="735.3" cy="308.5" r="5"/>
<circle cx="650.2" cy="322.6" r="5"/>
<circle cx="641.6" cy="352.8" r="5"/>
<circle cx="646.5" cy="353.0" r="5"/>
<circle cx="730.1" cy="358.3" r="5"/>
<circle cx="766.3" cy="248.3" r="5"/>
<circle cx="773.4" cy="316.8" r="5"/>
<circle cx="329.7" cy="108.0" r="5"/>
<circle cx="329.0" cy="127.5" r="5"/>
<circle cx="306.8" cy="147.6" r="5"/>
<circle cx="331.3" cy="161.1" r="5"/>
<circle cx="311.4" cy="165.7" r="5"/>
<circle cx="315.0" cy="187.5" r="5"/>
<circle cx="360.5" cy="208.0" r="5"/>
<circle cx="383.6" cy="219.6" r="5"/>
<circle cx="329.7" cy="240.2" r="5"/>
<circle cx="412.1" cy="241.1" r="5"/>
<circle cx="362.6" cy="252.0" r="5"/>
<circle cx="373.1" cy="255.1" r="5"/>
<circle cx="342.0" cy="258.1" r="5"/>
<circle cx="333.2" cy="263.4" r="5"/>
<circle cx="390.3" cy="263.4" r="5"/>
<circle cx="424.2" cy="271.2" r="5"/>
<circle cx="317.1" cy="279.6" r="5"/>
<circle cx="382.2" cy="288.7" r="5"/>
<circle cx="492.5" cy="188.0" r="5"/>
<circle cx="465.0" cy="236.3" r="5"/>
<circle cx="479.0" cy="237.8" r="5"/>
<circle cx="442.6" cy="274.5" r="5"/>
<circle cx="445.8" cy="280.1" r="5"/>
<circle cx="481.1" cy="286.3" r="5"/>
<circle cx="509.3" cy="283.1" r="5"/>
<circle cx="514.5" cy="285.2" r="5"/>
<circle cx="450.3" cy="308.0" r="5"/>
<circle cx="449.4" cy="313.9" r="5"/>
<circle cx="503.0" cy="320.4" r="5"/>
<circle cx="545.0" cy="242.4" r="5"/>
<circle cx="588.0" cy="234.7" r="5"/>
<circle cx="558.3" cy="259.4" r="5"/>
<circle cx="565.8" cy="265.4" r="5"/>
<circle cx="580.4" cy="260.1" r="5"/>
<circle cx="629.2" cy="277.5" r="5"/>
<circle cx="562.1" cy="289.6" r="5"/>
<circle cx="634.2" cy="304.2" r="5"/>
<circle cx="631.1" cy="308.7" r="5"/>
<circle cx="549.7" cy="331.5" r="5"/>
<circle cx="562.5" cy="331.5" r="5"/>
<circle cx="570.2" cy="341.4" r="5"/>
<circle cx="538.7" cy="345.1" r="5"/>
<circle cx="618.0" cy="341.7" r="5"/>
<circle cx="589.3" cy="347.2" r="5"/>
<circle cx="537.1" cy="364.7" r="5"/>
<circle cx="634.2" cy="354.7" r="5"/>
<circle cx="593.8" cy="408.8" r="5"/>
<circle cx="680.4" cy="214.4" r="5"/>
<circle cx="676.5" cy="227.9" r="5"/>
<circle cx="728.2" cy="228.6" r="5"/>
<circle cx="689.7" cy="234.9" r="5"/>
<circle cx="678.6" cy="238.6" r="5"/>
<circle cx="646.8" cy="239.4" r="5"/>
<circle cx="656.8" cy="241.8" r="5"/>
<circle cx="658.7" cy="245.4" r="5"/>
<circle cx="739.5" cy="243.3" r="5"/>
<circle cx="690.2" cy="247.5" r="5"/>
<circle cx="700.4" cy="249.1" r="5"/>
<circle cx="704.0" cy="246.8" r="5"/>
<circle cx="658.1" cy="260.6" r="5"/>
<circle cx="706.1" cy="262.2" r="5"/>
<circle cx="711.4" cy="263.3" r="5"/>
<circle cx="657.3" cy="266.8" r="5"/>
<circle cx="655.2" cy="272.6" r="5"/>
<circle cx="658.1" cy="277.3" r="5"/>
<circle cx="661.0" cy="283.1" r="5"/>
<circle cx="736.6" cy="271.0" r="5"/>
<circle cx="701.7" cy="285.7" r="5"/>
<circle cx="707.2" cy="286.8" r="5"/>
<circle cx="717.5" cy="292.0" r="5"/>
<circle cx="713.0" cy="293.8" r="5"/>
<circle cx="662.0" cy="304.6" r="5"/>
<circle cx="692.2" cy="308.5" r="5"/>
<circle cx="694.3" cy="313.6" r="5"/>
<circle cx="645.8" cy="337.1" r="5"/>
<circle cx="668.6" cy="343.1" r="5"/>
<circle cx="677.5" cy="339.7" r="5"/>
<circle cx="390.6" cy="201.3" r="5"/>
<circle cx="391.0" cy="216.1" r="5"/>
<circle cx="359.6" cy="264.8" r="5"/>
<circle cx="348.3" cy="278.2" r="5"/>
<circle cx="384.0" cy="316.8" r="5"/>
<circle cx="422.6" cy="329.7" r="5"/>
<circle cx="431.4" cy="196.6" r="5"/>
<circle cx="474.1" cy="220.2" r="5"/>
<circle cx="479.0" cy="225.5" r="5"/>
<circle cx="436.6" cy="226.7" r="5"/>
<circle cx="496.1" cy="262.6" r="5"/>
<circle cx="477.2" cy="271.9" r="5"/>
<circle cx="491.2" cy="272.8" r="5"/>
<circle cx="435.5" cy="283.1" r="5"/>
<circle cx="515.0" cy="293.1" r="5"/>
<circle cx="443.1" cy="308.9" r="5"/>
<circle cx="473.6" cy="305.7" r="5"/>
<circle cx="476.2" cy="303.8" r="5"/>
<circle cx="461.8" cy="318.8" r="5"/>
<circle cx="528.4" cy="320.4" r="5"/>
<circle cx="510.3" cy="322.2" r="5"/>
<circle cx="514.8" cy="318.8" r="5"/>
<circle cx="496.4" cy="327.4" r="5"/>
<circle cx="445.8" cy="329.6" r="5"/>
<circle cx="431.3" cy="340.5" r="5"/>
<circle cx="474.4" cy="345.2" r="5"/>
<circle cx="489.5" cy="343.9" r="5"/>
<circle cx="526.6" cy="344.9" r="5"/>
<circle cx="523.5" cy="348.1" r="5"/>
<circle cx="533.4" cy="357.8" r="5"/>
<circle cx="490.9" cy="369.7" r="5"/>
<circle cx="500.1" cy="374.9" r="5"/>
<circle cx="591.5" cy="424.6" r="5"/>
<circle cx="618.0" cy="171.1" r="5"/>
<circle cx="611.1" cy="249.4" r="5"/>
<circle cx="607.8" cy="257.6" r="5"/>
<circle cx="629.2" cy="243.1" r="5"/>
<circle cx="634.5" cy="264.3" r="5"/>
<circle cx="636.9" cy="274.6" r="5"/>
<circle cx="623.2" cy="279.7" r="5"/>
<circle cx="536.3" cy="279.1" r="5"/>
<circle cx="538.7" cy="288.8" r="5"/>
<circle cx="593.3" cy="282.2" r="5"/>
<circle cx="554.7" cy="303.1" r="5"/>
<circle cx="560.7" cy="301.6" r="5"/>
<circle cx="539.4" cy="326.5" r="5"/>
<circle cx="571.8" cy="300.5" r="5"/>
<circle cx="574.1" cy="304.2" r="5"/>
<circle cx="590.6" cy="298.9" r="5"/>
<circle cx="586.8" cy="307.3" r="5"/>
<circle cx="621.4" cy="307.1" r="5"/>
<circle cx="562.5" cy="322.3" r="5"/>
<circle cx="592.8" cy="314.4" r="5"/>
<circle cx="591.7" cy="317.8" r="5"/>
<circle cx="574.4" cy="327.6" r="5"/>
<circle cx="591.7" cy="332.0" r="5"/>
<circle cx="587.5" cy="336.2" r="5"/>
<circle cx="620.9" cy="322.0" r="5"/>
<circle cx="616.4" cy="325.2" r="5"/>
<circle cx="612.7" cy="328.9" r="5"/>
<circle cx="618.0" cy="327.8" r="5"/>
<circle cx="628.5" cy="332.5" r="5"/>
<circle cx="555.0" cy="328.6" r="5"/>
<circle cx="564.4" cy="339.1" r="5"/>
<circle cx="549.2" cy="347.8" r="5"/>
<circle cx="620.6" cy="347.5" r="5"/>
<circle cx="544.5" cy="378.6" r="5"/>
<circle cx="556.5" cy="379.2" r="5"/>
<circle cx="591.5" cy="360.5" r="5"/>
<circle cx="600.9" cy="355.0" r="5"/>
<circle cx="591.2" cy="398.3" r="5"/>
<circle cx="691.1" cy="256.7" r="5"/>
<circle cx="740.3" cy="260.6" r="5"/>
<circle cx="650.5" cy="271.0" r="5"/>
<circle cx="741.6" cy="281.5" r="5"/>
<circle cx="683.4" cy="280.8" r="5"/>
<circle cx="722.6" cy="285.5" r="5"/>
<circle cx="647.0" cy="292.3" r="5"/>
<circle cx="664.9" cy="291.5" r="5"/>
<circle cx="642.3" cy="300.4" r="5"/>
<circle cx="665.4" cy="310.2" r="5"/>
<circle cx="646.5" cy="313.0" r="5"/>
<circle cx="676.2" cy="307.8" r="5"/>
<circle cx="682.2" cy="307.8" r="5"/>
<circle cx="709.5" cy="309.9" r="5"/>
<circle cx="717.2" cy="314.1" r="5"/>
<circle cx="701.6" cy="318.3" r="5"/>
<circle cx="650.5" cy="338.6" r="5"/>
<circle cx="681.8" cy="355.6" r="5"/>
<circle cx="682.5" cy="363.8" r="5"/>
<circle cx="772.3" cy="236.4" r="5"/>
<circle cx="810.1" cy="261.3" r="5"/>
<circle cx="772.3" cy="276.2" r="5"/>
<circle cx="782.6" cy="282.3" r="5"/>
<circle cx="767.9" cy="293.6" r="5"/>
<circle cx="749.9" cy="353.3" r="5"/>
</g>
<g>
<circle cx="747.4" cy="225.0" r="3.4" fill="#000ef8"/>
<circle cx="529.8" cy="240.4" r="3.4" fill="#000ef8"/>
<circle cx="516.3" cy="243.3" r="3.4" fill="#000ef8"/>
<circle cx="520.1" cy="272.8" r="3.4" fill="#000ef8"/>
<circle cx="520.1" cy="280.1" r="3.4" fill="#000ef8"/>
<circle cx="533.4" cy="288.9" r="3.4" fill="#000ef8"/>
<circle cx="525.0" cy="307.8" r="3.4" fill="#000ef8"/>
<circle cx="479.9" cy="348.7" r="3.4" fill="#000ef8"/>
<circle cx="536.6" cy="192.6" r="3.4" fill="#000ef8"/>
<circle cx="597.7" cy="201.3" r="3.4" fill="#000ef8"/>
<circle cx="568.3" cy="224.8" r="3.4" fill="#000ef8"/>
<circle cx="539.0" cy="245.8" r="3.4" fill="#000ef8"/>
<circle cx="540.2" cy="264.4" r="3.4" fill="#000ef8"/>
<circle cx="572.8" cy="232.9" r="3.4" fill="#000ef8"/>
<circle cx="577.0" cy="243.7" r="3.4" fill="#000ef8"/>
<circle cx="585.2" cy="264.9" r="3.4" fill="#000ef8"/>
<circle cx="583.6" cy="277.5" r="3.4" fill="#000ef8"/>
<circle cx="612.0" cy="262.8" r="3.4" fill="#000ef8"/>
<circle cx="614.3" cy="272.2" r="3.4" fill="#000ef8"/>
<circle cx="622.5" cy="249.4" r="3.4" fill="#000ef8"/>
<circle cx="629.0" cy="253.3" r="3.4" fill="#000ef8"/>
<circle cx="636.6" cy="279.4" r="3.4" fill="#000ef8"/>
<circle cx="630.0" cy="286.2" r="3.4" fill="#000ef8"/>
<circle cx="557.9" cy="273.9" r="3.4" fill="#000ef8"/>
<circle cx="554.4" cy="279.6" r="3.4" fill="#000ef8"/>
<circle cx="563.4" cy="279.9" r="3.4" fill="#000ef8"/>
<circle cx="545.2" cy="275.4" r="3.4" fill="#000ef8"/>
<circle cx="546.5" cy="285.9" r="3.4" fill="#000ef8"/>
<circle cx="607.5" cy="287.5" r="3.4" fill="#000ef8"/>
<circle cx="542.6" cy="304.7" r="3.4" fill="#000ef8"/>
<circle cx="544.5" cy="313.3" r="3.4" fill="#000ef8"/>
<circle cx="580.9" cy="306.3" r="3.4" fill="#000ef8"/>
<circle cx="601.4" cy="295.2" r="3.4" fill="#000ef8"/>
<circle cx="598.3" cy="300.5" r="3.4" fill="#000ef8"/>
<circle cx="597.0" cy="311.0" r="3.4" fill="#000ef8"/>
<circle cx="610.1" cy="293.1" r="3.4" fill="#000ef8"/>
<circle cx="614.8" cy="298.6" r="3.4" fill="#000ef8"/>
<circle cx="609.3" cy="303.4" r="3.4" fill="#000ef8"/>
<circle cx="626.1" cy="295.8" r="3.4" fill="#000ef8"/>
<circle cx="565.7" cy="312.6" r="3.4" fill="#000ef8"/>
<circle cx="573.9" cy="322.0" r="3.4" fill="#000ef8"/>
<circle cx="580.9" cy="317.6" r="3.4" fill="#000ef8"/>
<circle cx="593.8" cy="326.2" r="3.4" fill="#000ef8"/>
<circle cx="602.2" cy="331.2" r="3.4" fill="#000ef8"/>
<circle cx="611.6" cy="335.1" r="3.4" fill="#000ef8"/>
<circle cx="627.4" cy="326.2" r="3.4" fill="#000ef8"/>
<circle cx="619.0" cy="333.1" r="3.4" fill="#000ef8"/>
<circle cx="636.3" cy="331.3" r="3.4" fill="#000ef8"/>
<circle cx="565.5" cy="344.6" r="3.4" fill="#000ef8"/>
<circle cx="539.2" cy="348.8" r="3.4" fill="#000ef8"/>
<circle cx="548.1" cy="359.4" r="3.4" fill="#000ef8"/>
<circle cx="612.4" cy="364.7" r="3.4" fill="#000ef8"/>
<circle cx="606.9" cy="368.4" r="3.4" fill="#000ef8"/>
<circle cx="615.9" cy="372.9" r="3.4" fill="#000ef8"/>
<circle cx="605.1" cy="375.7" r="3.4" fill="#000ef8"/>
<circle cx="632.6" cy="369.4" r="3.4" fill="#000ef8"/>
<circle cx="684.3" cy="203.6" r="3.4" fill="#000ef8"/>
<circle cx="667.3" cy="222.0" r="3.4" fill="#000ef8"/>
<circle cx="744.0" cy="225.5" r="3.4" fill="#000ef8"/>
<circle cx="657.9" cy="237.0" r="3.4" fill="#000ef8"/>
<circle cx="642.1" cy="240.7" r="3.4" fill="#000ef8"/>
<circle cx="642.1" cy="254.3" r="3.4" fill="#000ef8"/>
<circle cx="644.7" cy="259.6" r="3.4" fill="#000ef8"/>
<circle cx="658.4" cy="255.9" r="3.4" fill="#000ef8"/>
<circle cx="665.4" cy="262.2" r="3.4" fill="#000ef8"/>
<circle cx="706.4" cy="259.1" r="3.4" fill="#000ef8"/>
<circle cx="686.2" cy="264.9" r="3.4" fill="#000ef8"/>
<circle cx="643.7" cy="276.3" r="3.4" fill="#000ef8"/>
<circle cx="700.9" cy="271.0" r="3.4" fill="#000ef8"/>
<circle cx="718.2" cy="288.1" r="3.4" fill="#000ef8"/>
<circle cx="724.0" cy="291.0" r="3.4" fill="#000ef8"/>
<circle cx="671.7" cy="290.4" r="3.4" fill="#000ef8"/>
<circle cx="671.0" cy="294.1" r="3.4" fill="#000ef8"/>
<circle cx="673.4" cy="300.4" r="3.4" fill="#000ef8"/>
<circle cx="668.4" cy="301.5" r="3.4" fill="#000ef8"/>
<circle cx="661.0" cy="302.0" r="3.4" fill="#000ef8"/>
<circle cx="656.3" cy="307.2" r="3.4" fill="#000ef8"/>
<circle cx="642.6" cy="317.2" r="3.4" fill="#000ef8"/>
<circle cx="700.9" cy="309.4" r="3.4" fill="#000ef8"/>
<circle cx="639.2" cy="271.6" r="3.4" fill="#000ef8"/>
<circle cx="644.2" cy="328.1" r="3.4" fill="#000ef8"/>
<circle cx="673.1" cy="327.1" r="3.4" fill="#000ef8"/>
<circle cx="651.3" cy="341.8" r="3.4" fill="#000ef8"/>
<circle cx="668.0" cy="362.8" r="3.4" fill="#000ef8"/>
<circle cx="756.8" cy="220.7" r="3.4" fill="#000ef8"/>
<circle cx="761.8" cy="249.8" r="3.4" fill="#000ef8"/>
<circle cx="766.0" cy="261.0" r="3.4" fill="#000ef8"/>
<circle cx="783.3" cy="258.1" r="3.4" fill="#000ef8"/>
<circle cx="760.5" cy="273.9" r="3.4" fill="#000ef8"/>
<circle cx="159.9" cy="178.7" r="3.4" fill="#0046dc"/>
<circle cx="274.6" cy="98.8" r="3.4" fill="#0046dc"/>
<circle cx="309.2" cy="90.0" r="3.4" fill="#0046dc"/>
<circle cx="294.4" cy="119.1" r="3.4" fill="#0046dc"/>
<circle cx="288.8" cy="122.2" r="3.4" fill="#0046dc"/>
<circle cx="312.4" cy="135.0" r="3.4" fill="#0046dc"/>
<circle cx="274.6" cy="146.8" r="3.4" fill="#0046dc"/>
<circle cx="307.9" cy="152.0" r="3.4" fill="#0046dc"/>
<circle cx="327.1" cy="157.6" r="3.4" fill="#0046dc"/>
<circle cx="326.8" cy="161.1" r="3.4" fill="#0046dc"/>
<circle cx="397.6" cy="159.3" r="3.4" fill="#0046dc"/>
<circle cx="284.1" cy="173.0" r="3.4" fill="#0046dc"/>
<circle cx="306.1" cy="173.9" r="3.4" fill="#0046dc"/>
<circle cx="304.0" cy="176.5" r="3.4" fill="#0046dc"/>
<circle cx="325.5" cy="189.6" r="3.4" fill="#0046dc"/>
<circle cx="334.6" cy="191.4" r="3.4" fill="#0046dc"/>
<circle cx="307.0" cy="204.0" r="3.4" fill="#0046dc"/>
<circle cx="377.5" cy="206.2" r="3.4" fill="#0046dc"/>
<circle cx="369.6" cy="209.8" r="3.4" fill="#0046dc"/>
<circle cx="419.5" cy="208.3" r="3.4" fill="#0046dc"/>
<circle cx="294.6" cy="213.7" r="3.4" fill="#0046dc"/>
<circle cx="324.6" cy="213.1" r="3.4" fill="#0046dc"/>
<circle cx="335.5" cy="214.3" r="3.4" fill="#0046dc"/>
<circle cx="385.4" cy="217.5" r="3.4" fill="#0046dc"/>
<circle cx="307.0" cy="234.1" r="3.4" fill="#0046dc"/>
<circle cx="301.9" cy="256.0" r="3.4" fill="#0046dc"/>
<circle cx="380.6" cy="262.5" r="3.4" fill="#0046dc"/>
<circle cx="394.5" cy="264.2" r="3.4" fill="#0046dc"/>
<circle cx="424.2" cy="276.1" r="3.4" fill="#0046dc"/>
<circle cx="414.2" cy="297.1" r="3.4" fill="#0046dc"/>
<circle cx="440.1" cy="152.5" r="3.4" fill="#0046dc"/>
<circle cx="498.8" cy="160.3" r="3.4" fill="#0046dc"/>
<circle cx="567.0" cy="172.2" r="3.4" fill="#0046dc"/>
<circle cx="480.2" cy="210.1" r="3.4" fill="#0046dc"/>
<circle cx="495.1" cy="212.7" r="3.4" fill="#0046dc"/>
<circle cx="515.2" cy="217.1" r="3.4" fill="#0046dc"/>
<circle cx="447.9" cy="216.2" r="3.4" fill="#0046dc"/>
<circle cx="443.1" cy="219.9" r="3.4" fill="#0046dc"/>
<circle cx="441.4" cy="230.8" r="3.4" fill="#0046dc"/>
<circle cx="449.2" cy="236.3" r="3.4" fill="#0046dc"/>
<circle cx="484.2" cy="236.3" r="3.4" fill="#0046dc"/>
<circle cx="441.9" cy="246.0" r="3.4" fill="#0046dc"/>
<circle cx="461.5" cy="247.9" r="3.4" fill="#0046dc"/>
<circle cx="528.5" cy="252.3" r="3.4" fill="#0046dc"/>
<circle cx="507.9" cy="264.9" r="3.4" fill="#0046dc"/>
<circle cx="500.9" cy="266.6" r="3.4" fill="#0046dc"/>
<circle cx="500.5" cy="270.1" r="3.4" fill="#0046dc"/>
<circle cx="483.7" cy="268.4" r="3.4" fill="#0046dc"/>
<circle cx="468.5" cy="273.3" r="3.4" fill="#0046dc"/>
<circle cx="467.6" cy="280.1" r="3.4" fill="#0046dc"/>
<circle cx="456.5" cy="286.8" r="3.4" fill="#0046dc"/>
<circle cx="500.6" cy="294.4" r="3.4" fill="#0046dc"/>
<circle cx="432.1" cy="313.3" r="3.4" fill="#0046dc"/>
<circle cx="442.8" cy="317.5" r="3.4" fill="#0046dc"/>
<circle cx="462.0" cy="306.2" r="3.4" fill="#0046dc"/>
<circle cx="497.4" cy="310.2" r="3.4" fill="#0046dc"/>
<circle cx="530.3" cy="314.6" r="3.4" fill="#0046dc"/>
<circle cx="526.6" cy="324.6" r="3.4" fill="#0046dc"/>
<circle cx="522.1" cy="327.2" r="3.4" fill="#0046dc"/>
<circle cx="491.4" cy="351.0" r="3.4" fill="#0046dc"/>
<circle cx="513.2" cy="340.5" r="3.4" fill="#0046dc"/>
<circle cx="527.6" cy="351.0" r="3.4" fill="#0046dc"/>
<circle cx="549.9" cy="419.9" r="3.4" fill="#0046dc"/>
<circle cx="542.4" cy="255.0" r="3.4" fill="#0046dc"/>
<circle cx="582.8" cy="245.5" r="3.4" fill="#0046dc"/>
<circle cx="571.0" cy="247.3" r="3.4" fill="#0046dc"/>
<circle cx="583.8" cy="271.5" r="3.4" fill="#0046dc"/>
<circle cx="581.7" cy="283.8" r="3.4" fill="#0046dc"/>
<circle cx="577.0" cy="287.5" r="3.4" fill="#0046dc"/>
<circle cx="599.6" cy="284.6" r="3.4" fill="#0046dc"/>
<circle cx="604.3" cy="286.2" r="3.4" fill="#0046dc"/>
<circle cx="537.1" cy="382.0" r="3.4" fill="#0046dc"/>
<circle cx="307.0" cy="166.9" r="3.4" fill="#0089bb"/>
<circle cx="370.9" cy="221.9" r="3.4" fill="#0089bb"/>
<circle cx="452.4" cy="174.3" r="3.4" fill="#0089bb"/>
<circle cx="503.1" cy="261.0" r="3.4" fill="#0089bb"/>
<circle cx="532.9" cy="275.4" r="3.4" fill="#0089bb"/>
<circle cx="484.1" cy="289.9" r="3.4" fill="#0089bb"/>
<circle cx="528.2" cy="289.4" r="3.4" fill="#0089bb"/>
<circle cx="529.8" cy="292.6" r="3.4" fill="#0089bb"/>
<circle cx="492.2" cy="315.9" r="3.4" fill="#0089bb"/>
<circle cx="506.6" cy="317.5" r="3.4" fill="#0089bb"/>
<circle cx="479.1" cy="343.4" r="3.4" fill="#0089bb"/>
<circle cx="532.9" cy="374.1" r="3.4" fill="#0089bb"/>
<circle cx="635.3" cy="200.2" r="3.4" fill="#0089bb"/>
<circle cx="621.9" cy="226.7" r="3.4" fill="#0089bb"/>
<circle cx="589.1" cy="228.8" r="3.4" fill="#0089bb"/>
<circle cx="541.5" cy="232.9" r="3.4" fill="#0089bb"/>
<circle cx="608.8" cy="235.2" r="3.4" fill="#0089bb"/>
<circle cx="571.0" cy="268.3" r="3.4" fill="#0089bb"/>
<circle cx="609.5" cy="269.1" r="3.4" fill="#0089bb"/>
<circle cx="610.4" cy="278.3" r="3.4" fill="#0089bb"/>
<circle cx="636.9" cy="244.5" r="3.4" fill="#0089bb"/>
<circle cx="623.0" cy="264.3" r="3.4" fill="#0089bb"/>
<circle cx="637.9" cy="258.4" r="3.4" fill="#0089bb"/>
<circle cx="543.9" cy="280.4" r="3.4" fill="#0089bb"/>
<circle cx="569.3" cy="286.4" r="3.4" fill="#0089bb"/>
<circle cx="619.5" cy="289.0" r="3.4" fill="#0089bb"/>
<circle cx="572.3" cy="293.7" r="3.4" fill="#0089bb"/>
<circle cx="552.3" cy="297.9" r="3.4" fill="#0089bb"/>
<circle cx="541.8" cy="309.9" r="3.4" fill="#0089bb"/>
<circle cx="540.0" cy="318.4" r="3.4" fill="#0089bb"/>
<circle cx="579.3" cy="297.9" r="3.4" fill="#0089bb"/>
<circle cx="621.4" cy="296.8" r="3.4" fill="#0089bb"/>
<circle cx="632.4" cy="293.7" r="3.4" fill="#0089bb"/>
<circle cx="566.5" cy="315.7" r="3.4" fill="#0089bb"/>
<circle cx="568.8" cy="322.0" r="3.4" fill="#0089bb"/>
<circle cx="596.4" cy="319.9" r="3.4" fill="#0089bb"/>
<circle cx="571.2" cy="333.1" r="3.4" fill="#0089bb"/>
<circle cx="600.6" cy="326.2" r="3.4" fill="#0089bb"/>
<circle cx="607.2" cy="333.3" r="3.4" fill="#0089bb"/>
<circle cx="610.1" cy="318.4" r="3.4" fill="#0089bb"/>
<circle cx="612.4" cy="321.0" r="3.4" fill="#0089bb"/>
<circle cx="627.4" cy="321.5" r="3.4" fill="#0089bb"/>
<circle cx="630.0" cy="337.2" r="3.4" fill="#0089bb"/>
<circle cx="556.5" cy="336.2" r="3.4" fill="#0089bb"/>
<circle cx="573.9" cy="339.4" r="3.4" fill="#0089bb"/>
<circle cx="576.5" cy="345.6" r="3.4" fill="#0089bb"/>
<circle cx="553.4" cy="343.0" r="3.4" fill="#0089bb"/>
<circle cx="560.5" cy="346.2" r="3.4" fill="#0089bb"/>
<circle cx="555.0" cy="348.8" r="3.4" fill="#0089bb"/>
<circle cx="627.2" cy="348.1" r="3.4" fill="#0089bb"/>
<circle cx="552.3" cy="366.6" r="3.4" fill="#0089bb"/>
<circle cx="572.6" cy="356.5" r="3.4" fill="#0089bb"/>
<circle cx="609.5" cy="355.8" r="3.4" fill="#0089bb"/>
<circle cx="629.5" cy="355.8" r="3.4" fill="#0089bb"/>
<circle cx="630.0" cy="366.3" r="3.4" fill="#0089bb"/>
<circle cx="628.5" cy="377.3" r="3.4" fill="#0089bb"/>
<circle cx="577.8" cy="381.3" r="3.4" fill="#0089bb"/>
<circle cx="592.0" cy="382.3" r="3.4" fill="#0089bb"/>
<circle cx="653.6" cy="166.3" r="3.4" fill="#0089bb"/>
<circle cx="645.5" cy="214.1" r="3.4" fill="#0089bb"/>
<circle cx="708.5" cy="226.8" r="3.4" fill="#0089bb"/>
<circle cx="642.6" cy="245.7" r="3.4" fill="#0089bb"/>
<circle cx="732.7" cy="240.2" r="3.4" fill="#0089bb"/>
<circle cx="676.2" cy="250.9" r="3.4" fill="#0089bb"/>
<circle cx="720.9" cy="260.1" r="3.4" fill="#0089bb"/>
<circle cx="718.8" cy="263.8" r="3.4" fill="#0089bb"/>
<circle cx="644.7" cy="270.5" r="3.4" fill="#0089bb"/>
<circle cx="651.8" cy="275.8" r="3.4" fill="#0089bb"/>
<circle cx="690.1" cy="267.1" r="3.4" fill="#0089bb"/>
<circle cx="690.6" cy="284.4" r="3.4" fill="#0089bb"/>
<circle cx="703.5" cy="288.9" r="3.4" fill="#0089bb"/>
<circle cx="721.4" cy="292.0" r="3.4" fill="#0089bb"/>
<circle cx="663.9" cy="296.8" r="3.4" fill="#0089bb"/>
<circle cx="660.5" cy="312.0" r="3.4" fill="#0089bb"/>
<circle cx="687.8" cy="302.5" r="3.4" fill="#0089bb"/>
<circle cx="702.7" cy="305.9" r="3.4" fill="#0089bb"/>
<circle cx="705.6" cy="312.2" r="3.4" fill="#0089bb"/>
<circle cx="735.3" cy="308.5" r="3.4" fill="#0089bb"/>
<circle cx="650.2" cy="322.6" r="3.4" fill="#0089bb"/>
<circle cx="641.6" cy="352.8" r="3.4" fill="#0089bb"/>
<circle cx="646.5" cy="353.0" r="3.4" fill="#0089bb"/>
<circle cx="730.1" cy="358.3" r="3.4" fill="#0089bb"/>
<circle cx="766.3" cy="248.3" r="3.4" fill="#0089bb"/>
<circle cx="773.4" cy="316.8" r="3.4" fill="#0089bb"/>
<circle cx="329.7" cy="108.0" r="3.4" fill="#00bea0"/>
<circle cx="329.0" cy="127.5" r="3.4" fill="#00bea0"/>
<circle cx="306.8" cy="147.6" r="3.4" fill="#00bea0"/>
<circle cx="331.3" cy="161.1" r="3.4" fill="#00bea0"/>
<circle cx="311.4" cy="165.7" r="3.4" fill="#00bea0"/>
<circle cx="315.0" cy="187.5" r="3.4" fill="#00bea0"/>
<circle cx="360.5" cy="208.0" r="3.4" fill="#00bea0"/>
<circle cx="383.6" cy="219.6" r="3.4" fill="#00bea0"/>
<circle cx="329.7" cy="240.2" r="3.4" fill="#00bea0"/>
<circle cx="412.1" cy="241.1" r="3.4" fill="#00bea0"/>
<circle cx="362.6" cy="252.0" r="3.4" fill="#00bea0"/>
<circle cx="373.1" cy="255.1" r="3.4" fill="#00bea0"/>
<circle cx="342.0" cy="258.1" r="3.4" fill="#00bea0"/>
<circle cx="333.2" cy="263.4" r="3.4" fill="#00bea0"/>
<circle cx="390.3" cy="263.4" r="3.4" fill="#00bea0"/>
<circle cx="424.2" cy="271.2" r="3.4" fill="#00bea0"/>
<circle cx="317.1" cy="279.6" r="3.4" fill="#00bea0"/>
<circle cx="382.2" cy="288.7" r="3.4" fill="#00bea0"/>
<circle cx="492.5" cy="188.0" r="3.4" fill="#00bea0"/>
<circle cx="465.0" cy="236.3" r="3.4" fill="#00bea0"/>
<circle cx="479.0" cy="237.8" r="3.4" fill="#00bea0"/>
<circle cx="442.6" cy="274.5" r="3.4" fill="#00bea0"/>
<circle cx="445.8" cy="280.1" r="3.4" fill="#00bea0"/>
<circle cx="481.1" cy="286.3" r="3.4" fill="#00bea0"/>
<circle cx="509.3" cy="283.1" r="3.4" fill="#00bea0"/>
<circle cx="514.5" cy="285.2" r="3.4" fill="#00bea0"/>
<circle cx="450.3" cy="308.0" r="3.4" fill="#00bea0"/>
<circle cx="449.4" cy="313.9" r="3.4" fill="#00bea0"/>
<circle cx="503.0" cy="320.4" r="3.4" fill="#00bea0"/>
<circle cx="545.0" cy="242.4" r="3.4" fill="#00bea0"/>
<circle cx="588.0" cy="234.7" r="3.4" fill="#00bea0"/>
<circle cx="558.3" cy="259.4" r="3.4" fill="#00bea0"/>
<circle cx="565.8" cy="265.4" r="3.4" fill="#00bea0"/>
<circle cx="580.4" cy="260.1" r="3.4" fill="#00bea0"/>
<circle cx="629.2" cy="277.5" r="3.4" fill="#00bea0"/>
<circle cx="562.1" cy="289.6" r="3.4" fill="#00bea0"/>
<circle cx="634.2" cy="304.2" r="3.4" fill="#00bea0"/>
<circle cx="631.1" cy="308.7" r="3.4" fill="#00bea0"/>
<circle cx="549.7" cy="331.5" r="3.4" fill="#00bea0"/>
<circle cx="562.5" cy="331.5" r="3.4" fill="#00bea0"/>
<circle cx="570.2" cy="341.4" r="3.4" fill="#00bea0"/>
<circle cx="538.7" cy="345.1" r="3.4" fill="#00bea0"/>
<circle cx="618.0" cy="341.7" r="3.4" fill="#00bea0"/>
<circle cx="589.3" cy="347.2" r="3.4" fill="#00bea0"/>
<circle cx="537.1" cy="364.7" r="3.4" fill="#00bea0"/>
<circle cx="634.2" cy="354.7" r="3.4" fill="#00bea0"/>
<circle cx="593.8" cy="408.8" r="3.4" fill="#00bea0"/>
<circle cx="680.4" cy="214.4" r="3.4" fill="#00bea0"/>
<circle cx="676.5" cy="227.9" r="3.4" fill="#00bea0"/>
<circle cx="728.2" cy="228.6" r="3.4" fill="#00bea0"/>
<circle cx="689.7" cy="234.9" r="3.4" fill="#00bea0"/>
<circle cx="678.6" cy="238.6" r="3.4" fill="#00bea0"/>
<circle cx="646.8" cy="239.4" r="3.4" fill="#00bea0"/>
<circle cx="656.8" cy="241.8" r="3.4" fill="#00bea0"/>
<circle cx="658.7" cy="245.4" r="3.4" fill="#00bea0"/>
<circle cx="739.5" cy="243.3" r="3.4" fill="#00bea0"/>
<circle cx="690.2" cy="247.5" r="3.4" fill="#00bea0"/>
<circle cx="700.4" cy="249.1" r="3.4" fill="#00bea0"/>
<circle cx="704.0" cy="246.8" r="3.4" fill="#00bea0"/>
<circle cx="658.1" cy="260.6" r="3.4" fill="#00bea0"/>
<circle cx="706.1" cy="262.2" r="3.4" fill="#00bea0"/>
<circle cx="711.4" cy="263.3" r="3.4" fill="#00bea0"/>
<circle cx="657.3" cy="266.8" r="3.4" fill="#00bea0"/>
<circle cx="655.2" cy="272.6" r="3.4" fill="#00bea0"/>
<circle cx="658.1" cy="277.3" r="3.4" fill="#00bea0"/>
<circle cx="661.0" cy="283.1" r="3.4" fill="#00bea0"/>
<circle cx="736.6" cy="271.0" r="3.4" fill="#00bea0"/>
<circle cx="701.7" cy="285.7" r="3.4" fill="#00bea0"/>
<circle cx="707.2" cy="286.8" r="3.4" fill="#00bea0"/>
<circle cx="717.5" cy="292.0" r="3.4" fill="#00bea0"/>
<circle cx="713.0" cy="293.8" r="3.4" fill="#00bea0"/>
<circle cx="662.0" cy="304.6" r="3.4" fill="#00bea0"/>
<circle cx="692.2" cy="308.5" r="3.4" fill="#00bea0"/>
<circle cx="694.3" cy="313.6" r="3.4" fill="#00bea0"/>
<circle cx="645.8" cy="337.1" r="3.4" fill="#00bea0"/>
<circle cx="668.6" cy="343.1" r="3.4" fill="#00bea0"/>
<circle cx="677.5" cy="339.7" r="3.4" fill="#00bea0"/>
<circle cx="390.6" cy="201.3" r="3.4" fill="#00ef87"/>
<circle cx="391.0" cy="216.1" r="3.4" fill="#00ef87"/>
<circle cx="359.6" cy="264.8" r="3.4" fill="#00ef87"/>
<circle cx="348.3" cy="278.2" r="3.4" fill="#00ef87"/>
<circle cx="384.0" cy="316.8" r="3.4" fill="#00ef87"/>
<circle cx="422.6" cy="329.7" r="3.4" fill="#00ef87"/>
<circle cx="431.4" cy="196.6" r="3.4" fill="#00ef87"/>
<circle cx="474.1" cy="220.2" r="3.4" fill="#00ef87"/>
<circle cx="479.0" cy="225.5" r="3.4" fill="#00ef87"/>
<circle cx="436.6" cy="226.7" r="3.4" fill="#00ef87"/>
<circle cx="496.1" cy="262.6" r="3.4" fill="#00ef87"/>
<circle cx="477.2" cy="271.9" r="3.4" fill="#00ef87"/>
<circle cx="491.2" cy="272.8" r="3.4" fill="#00ef87"/>
<circle cx="435.5" cy="283.1" r="3.4" fill="#00ef87"/>
<circle cx="515.0" cy="293.1" r="3.4" fill="#00ef87"/>
<circle cx="443.1" cy="308.9" r="3.4" fill="#00ef87"/>
<circle cx="473.6" cy="305.7" r="3.4" fill="#00ef87"/>
<circle cx="476.2" cy="303.8" r="3.4" fill="#00ef87"/>
<circle cx="461.8" cy="318.8" r="3.4" fill="#00ef87"/>
<circle cx="528.4" cy="320.4" r="3.4" fill="#00ef87"/>
<circle cx="510.3" cy="322.2" r="3.4" fill="#00ef87"/>
<circle cx="514.8" cy="318.8" r="3.4" fill="#00ef87"/>
<circle cx="496.4" cy="327.4" r="3.4" fill="#00ef87"/>
<circle cx="445.8" cy="329.6" r="3.4" fill="#00ef87"/>
<circle cx="431.3" cy="340.5" r="3.4" fill="#00ef87"/>
<circle cx="474.4" cy="345.2" r="3.4" fill="#00ef87"/>
<circle cx="489.5" cy="343.9" r="3.4" fill="#00ef87"/>
<circle cx="526.6" cy="344.9" r="3.4" fill="#00ef87"/>
<circle cx="523.5" cy="348.1" r="3.4" fill="#00ef87"/>
<circle cx="533.4" cy="357.8" r="3.4" fill="#00ef87"/>
<circle cx="490.9" cy="369.7" r="3.4" fill="#00ef87"/>
<circle cx="500.1" cy="374.9" r="3.4" fill="#00ef87"/>
<circle cx="591.5" cy="424.6" r="3.4" fill="#00ef87"/>
<circle cx="618.0" cy="171.1" r="3.4" fill="#00ef87"/>
<circle cx="611.1" cy="249.4" r="3.4" fill="#00ef87"/>
<circle cx="607.8" cy="257.6" r="3.4" fill="#00ef87"/>
<circle cx="629.2" cy="243.1" r="3.4" fill="#00ef87"/>
<circle cx="634.5" cy="264.3" r="3.4" fill="#00ef87"/>
<circle cx="636.9" cy="274.6" r="3.4" fill="#00ef87"/>
<circle cx="623.2" cy="279.7" r="3.4" fill="#00ef87"/>
<circle cx="536.3" cy="279.1" r="3.4" fill="#00ef87"/>
<circle cx="538.7" cy="288.8" r="3.4" fill="#00ef87"/>
<circle cx="593.3" cy="282.2" r="3.4" fill="#00ef87"/>
<circle cx="554.7" cy="303.1" r="3.4" fill="#00ef87"/>
<circle cx="560.7" cy="301.6" r="3.4" fill="#00ef87"/>
<circle cx="539.4" cy="326.5" r="3.4" fill="#00ef87"/>
<circle cx="571.8" cy="300.5" r="3.4" fill="#00ef87"/>
<circle cx="574.1" cy="304.2" r="3.4" fill="#00ef87"/>
<circle cx="590.6" cy="298.9" r="3.4" fill="#00ef87"/>
<circle cx="586.8" cy="307.3" r="3.4" fill="#00ef87"/>
<circle cx="621.4" cy="307.1" r="3.4" fill="#00ef87"/>
<circle cx="562.5" cy="322.3" r="3.4" fill="#00ef87"/>
<circle cx="592.8" cy="314.4" r="3.4" fill="#00ef87"/>
<circle cx="591.7" cy="317.8" r="3.4" fill="#00ef87"/>
<circle cx="574.4" cy="327.6" r="3.4" fill="#00ef87"/>
<circle cx="591.7" cy="332.0" r="3.4" fill="#00ef87"/>
<circle cx="587.5" cy="336.2" r="3.4" fill="#00ef87"/>
<circle cx="620.9" cy="322.0" r="3.4" fill="#00ef87"/>
<circle cx="616.4" cy="325.2" r="3.4" fill="#00ef87"/>
<circle cx="612.7" cy="328.9" r="3.4" fill="#00ef87"/>
<circle cx="618.0" cy="327.8" r="3.4" fill="#00ef87"/>
<circle cx="628.5" cy="332.5" r="3.4" fill="#00ef87"/>
<circle cx="555.0" cy="328.6" r="3.4" fill="#00ef87"/>
<circle cx="564.4" cy="339.1" r="3.4" fill="#00ef87"/>
<circle cx="549.2" cy="347.8" r="3.4" fill="#00ef87"/>
<circle cx="620.6" cy="347.5" r="3.4" fill="#00ef87"/>
<circle cx="544.5" cy="378.6" r="3.4" fill="#00ef87"/>
<circle cx="556.5" cy="379.2" r="3.4" fill="#00ef87"/>
<circle cx="591.5" cy="360.5" r="3.4" fill="#00ef87"/>
<circle cx="600.9" cy="355.0" r="3.4" fill="#00ef87"/>
<circle cx="591.2" cy="398.3" r="3.4" fill="#00ef87"/>
<circle cx="691.1" cy="256.7" r="3.4" fill="#00ef87"/>
<circle cx="740.3" cy="260.6" r="3.4" fill="#00ef87"/>
<circle cx="650.5" cy="271.0" r="3.4" fill="#00ef87"/>
<circle cx="741.6" cy="281.5" r="3.4" fill="#00ef87"/>
<circle cx="683.4" cy="280.8" r="3.4" fill="#00ef87"/>
<circle cx="722.6" cy="285.5" r="3.4" fill="#00ef87"/>
<circle cx="647.0" cy="292.3" r="3.4" fill="#00ef87"/>
<circle cx="664.9" cy="291.5" r="3.4" fill="#00ef87"/>
<circle cx="642.3" cy="300.4" r="3.4" fill="#00ef87"/>
<circle cx="665.4" cy="310.2" r="3.4" fill="#00ef87"/>
<circle cx="646.5" cy="313.0" r="3.4" fill="#00ef87"/>
<circle cx="676.2" cy="307.8" r="3.4" fill="#00ef87"/>
<circle cx="682.2" cy="307.8" r="3.4" fill="#00ef87"/>
<circle cx="709.5" cy="309.9" r="3.4" fill="#00ef87"/>
<circle cx="717.2" cy="314.1" r="3.4" fill="#00ef87"/>
<circle cx="701.6" cy="318.3" r="3.4" fill="#00ef87"/>
<circle cx="650.5" cy="338.6" r="3.4" fill="#00ef87"/>
<circle cx="681.8" cy="355.6" r="3.4" fill="#00ef87"/>
<circle cx="682.5" cy="363.8" r="3.4" fill="#00ef87"/>
<circle cx="772.3" cy="236.4" r="3.4" fill="#00ef87"/>
<circle cx="810.1" cy="261.3" r="3.4" fill="#00ef87"/>
<circle cx="772.3" cy="276.2" r="3.4" fill="#00ef87"/>
<circle cx="782.6" cy="282.3" r="3.4" fill="#00ef87"/>
<circle cx="767.9" cy="293.6" r="3.4" fill="#00ef87"/>
<circle cx="749.9" cy="353.3" r="3.4" fill="#00ef87"/>
</g></g>
<g stroke="#000" stroke-width="2.7" fill="none">
<path d="M237.4 492.3V482.3"/>
<path d="M381.4 492.3V482.3"/>
<path d="M525.4 492.3V482.3"/>
<path d="M669.4 492.3V482.3"/>
<path d="M813.4 492.3V482.3"/>
<path d="M117.9 395.3H127.9"/>
<path d="M117.9 290.9H127.9"/>
<path d="M117.9 186.6H127.9"/>
<path d="M117.9 82.2H127.9"/>
</g>
<rect x="117.9" y="1.1" width="738.5" height="491.2" fill="none" stroke="#000" stroke-width="2.9"/>
<text x="237.4" y="519.6" font-size="30.8" text-anchor="middle">20</text>
<text x="381.4" y="519.6" font-size="30.8" text-anchor="middle">25</text>
<text x="525.4" y="519.6" font-size="30.8" text-anchor="middle">30</text>
<text x="669.4" y="519.6" font-size="30.8" text-anchor="middle">35</text>
<text x="813.4" y="519.6" font-size="30.8" text-anchor="middle">40</text>
<text x="113.3" y="406.9" font-size="30.8" text-anchor="end">0.20</text>
<text x="113.3" y="302.5" font-size="30.8" text-anchor="end">0.22</text>
<text x="113.3" y="198.2" font-size="30.8" text-anchor="end">0.24</text>
<text x="113.3" y="93.8" font-size="30.8" text-anchor="end">0.26</text>
<text x="487.6" y="563.5" font-size="41.3" text-anchor="middle" letter-spacing="0.08">Intensity (counts/s, 2-8 keV)</text>
<text transform="translate(31.1,245.8) rotate(-90)" font-size="41.3" text-anchor="middle" letter-spacing="0.1">4-8 keV/2-4 keV</text>
<rect x="902.5" y="1.2" width="24.5" height="491.1" fill="url(#cb)" stroke="#000" stroke-width="2.7"/>
<text x="931.7" y="409.2" font-size="30.8">10</text>
<text x="931.7" y="315.0" font-size="30.8">20</text>
<text x="931.7" y="220.8" font-size="30.8">30</text>
<text x="931.7" y="126.6" font-size="30.8">40</text>
<text x="931.7" y="32.4" font-size="30.8">50</text>
<text transform="translate(995.1,246.3) rotate(-90)" font-size="25.4" text-anchor="middle" letter-spacing="-0.35">Elapsed time (h)</text>
</svg></body></html>
